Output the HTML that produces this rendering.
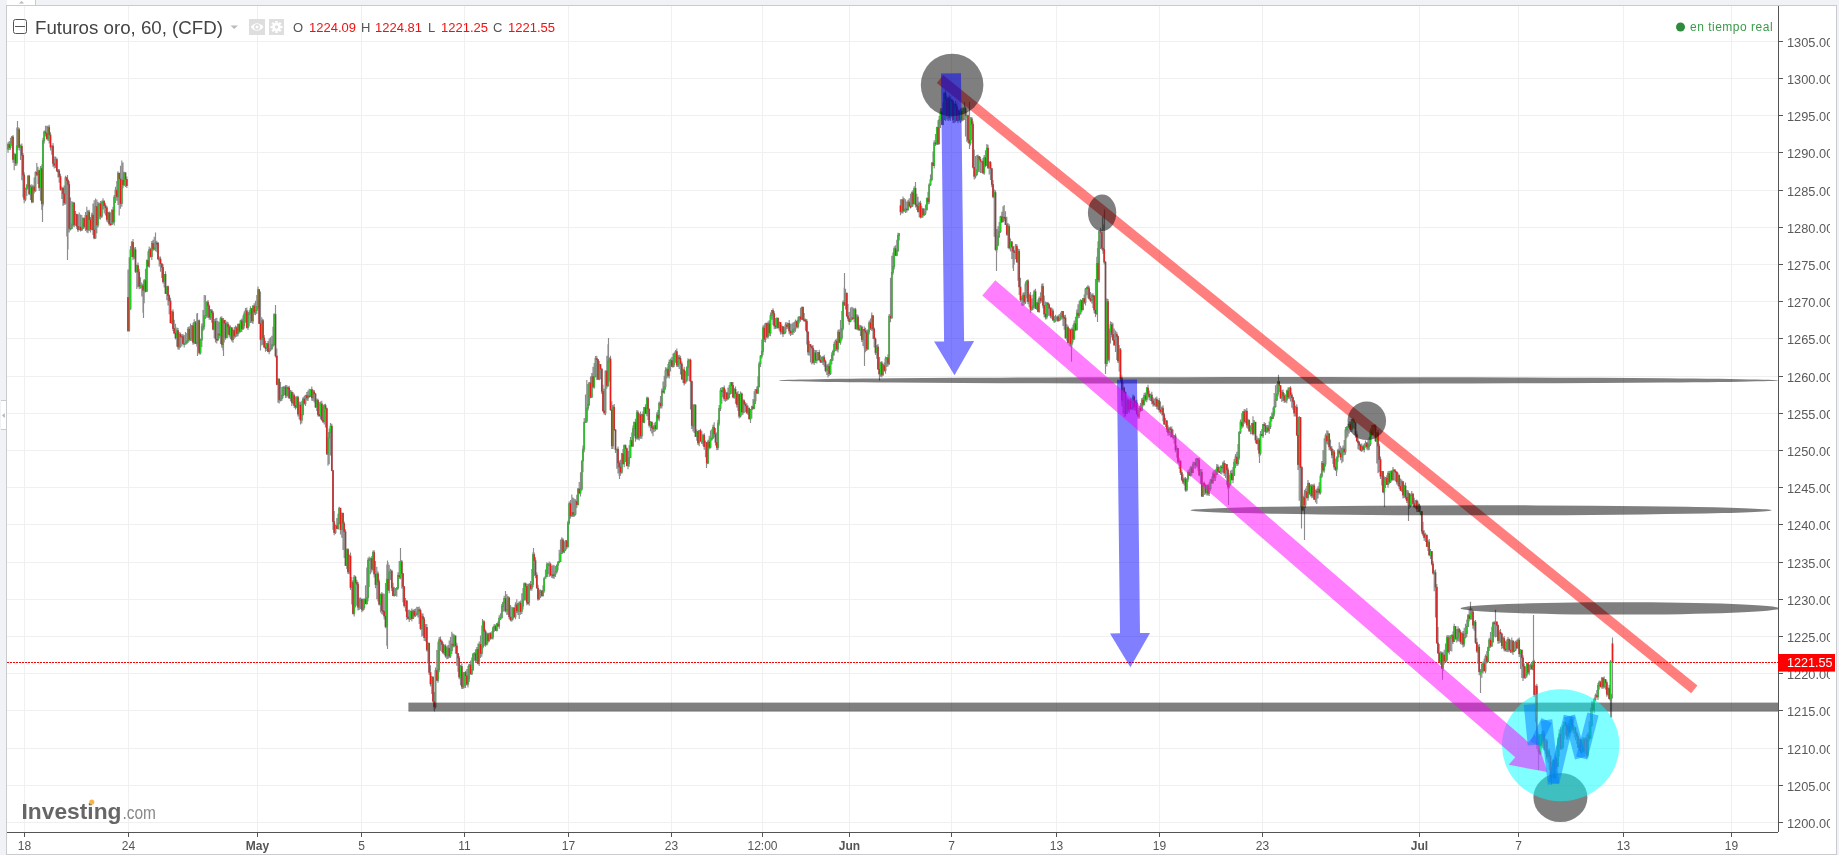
<!DOCTYPE html>
<html><head><meta charset="utf-8"><title>Futuros oro</title>
<style>
html,body{margin:0;padding:0;width:1839px;height:855px;overflow:hidden;background:#f0f2f6;}
svg{position:absolute;left:0;top:0;display:block;will-change:transform}
text{font-family:"Liberation Sans",sans-serif}
</style></head><body>
<svg width="1839" height="855" viewBox="0 0 1839 855">
<defs><clipPath id="cp"><rect x="7" y="6" width="1771" height="826"/></clipPath>
<clipPath id="ax"><rect x="1779" y="6" width="51" height="826"/></clipPath></defs>
<rect x="0" y="0" width="1839" height="855" fill="#f0f2f6"/>
<rect x="6.5" y="5.5" width="1830" height="849" fill="#fff" stroke="#c9cbcf" stroke-width="1"/>
<rect x="7" y="0" width="28" height="5" fill="#fff"/>
<path d="M35.5 0V5" stroke="#c9cbcf"/>
<path d="M19 3.6L21.5 1L24 3.6Z" fill="#b5b7ba"/>
<rect x="1" y="400.5" width="5" height="29" fill="#fff"/>
<path d="M1 400.5H6M1 429.5H6" stroke="#c9cbcf" stroke-width="1"/>
<path d="M2 415.5L4.8 413V418Z" fill="#b5b7ba"/>

<path d="M24.5 6V832M128.5 6V832M257.5 6V832M361.5 6V832M464.5 6V832M568.5 6V832M671.5 6V832M762.5 6V832M849.5 6V832M951.5 6V832M1056.5 6V832M1159.5 6V832M1262.5 6V832M1419.5 6V832M1518.5 6V832M1623.5 6V832M1731.5 6V832M7 41.5H1778M7 78.5H1778M7 115.5H1778M7 152.5H1778M7 190.5H1778M7 227.5H1778M7 264.5H1778M7 301.5H1778M7 338.5H1778M7 376.5H1778M7 413.5H1778M7 450.5H1778M7 487.5H1778M7 524.5H1778M7 562.5H1778M7 599.5H1778M7 636.5H1778M7 673.5H1778M7 710.5H1778M7 748.5H1778M7 785.5H1778M7 822.5H1778" stroke="#f0f0f0" stroke-width="1" shape-rendering="crispEdges"/>
<path d="M1778.5 6V832M7 832.5H1778" stroke="#555" stroke-width="1.2" shape-rendering="crispEdges"/>
<path d="M24.5 833V837M128.5 833V837M257.5 833V837M361.5 833V837M464.5 833V837M568.5 833V837M671.5 833V837M762.5 833V837M849.5 833V837M951.5 833V837M1056.5 833V837M1159.5 833V837M1262.5 833V837M1419.5 833V837M1518.5 833V837M1623.5 833V837M1731.5 833V837M1779 41.5H1783M1779 78.5H1783M1779 115.5H1783M1779 152.5H1783M1779 190.5H1783M1779 227.5H1783M1779 264.5H1783M1779 301.5H1783M1779 338.5H1783M1779 376.5H1783M1779 413.5H1783M1779 450.5H1783M1779 487.5H1783M1779 524.5H1783M1779 562.5H1783M1779 599.5H1783M1779 636.5H1783M1779 673.5H1783M1779 710.5H1783M1779 748.5H1783M1779 785.5H1783M1779 822.5H1783" stroke="#555" stroke-width="1" shape-rendering="crispEdges"/>
<g clip-path="url(#ax)"><text x="1787" y="46.6" font-size="12.8" fill="#5a5a5a">1305.00</text><text x="1787" y="83.6" font-size="12.8" fill="#5a5a5a">1300.00</text><text x="1787" y="120.6" font-size="12.8" fill="#5a5a5a">1295.00</text><text x="1787" y="157.6" font-size="12.8" fill="#5a5a5a">1290.00</text><text x="1787" y="195.6" font-size="12.8" fill="#5a5a5a">1285.00</text><text x="1787" y="232.6" font-size="12.8" fill="#5a5a5a">1280.00</text><text x="1787" y="269.6" font-size="12.8" fill="#5a5a5a">1275.00</text><text x="1787" y="306.6" font-size="12.8" fill="#5a5a5a">1270.00</text><text x="1787" y="343.6" font-size="12.8" fill="#5a5a5a">1265.00</text><text x="1787" y="381.6" font-size="12.8" fill="#5a5a5a">1260.00</text><text x="1787" y="418.6" font-size="12.8" fill="#5a5a5a">1255.00</text><text x="1787" y="455.6" font-size="12.8" fill="#5a5a5a">1250.00</text><text x="1787" y="492.6" font-size="12.8" fill="#5a5a5a">1245.00</text><text x="1787" y="529.6" font-size="12.8" fill="#5a5a5a">1240.00</text><text x="1787" y="567.6" font-size="12.8" fill="#5a5a5a">1235.00</text><text x="1787" y="604.6" font-size="12.8" fill="#5a5a5a">1230.00</text><text x="1787" y="641.6" font-size="12.8" fill="#5a5a5a">1225.00</text><text x="1787" y="678.6" font-size="12.8" fill="#5a5a5a">1220.00</text><text x="1787" y="715.6" font-size="12.8" fill="#5a5a5a">1215.00</text><text x="1787" y="753.6" font-size="12.8" fill="#5a5a5a">1210.00</text><text x="1787" y="790.6" font-size="12.8" fill="#5a5a5a">1205.00</text><text x="1787" y="827.6" font-size="12.8" fill="#5a5a5a">1200.00</text></g>
<text x="24.5" y="849.5" font-size="12" fill="#555" text-anchor="middle">18</text><text x="128.5" y="849.5" font-size="12" fill="#555" text-anchor="middle">24</text><text x="257.5" y="849.5" font-size="12" fill="#555" text-anchor="middle" font-weight="bold">May</text><text x="361.5" y="849.5" font-size="12" fill="#555" text-anchor="middle">5</text><text x="464.5" y="849.5" font-size="12" fill="#555" text-anchor="middle">11</text><text x="568.5" y="849.5" font-size="12" fill="#555" text-anchor="middle">17</text><text x="671.5" y="849.5" font-size="12" fill="#555" text-anchor="middle">23</text><text x="762.5" y="849.5" font-size="12" fill="#555" text-anchor="middle">12:00</text><text x="849.5" y="849.5" font-size="12" fill="#555" text-anchor="middle" font-weight="bold">Jun</text><text x="951.5" y="849.5" font-size="12" fill="#555" text-anchor="middle">7</text><text x="1056.5" y="849.5" font-size="12" fill="#555" text-anchor="middle">13</text><text x="1159.5" y="849.5" font-size="12" fill="#555" text-anchor="middle">19</text><text x="1262.5" y="849.5" font-size="12" fill="#555" text-anchor="middle">23</text><text x="1419.5" y="849.5" font-size="12" fill="#555" text-anchor="middle" font-weight="bold">Jul</text><text x="1518.5" y="849.5" font-size="12" fill="#555" text-anchor="middle">7</text><text x="1623.5" y="849.5" font-size="12" fill="#555" text-anchor="middle">13</text><text x="1731.5" y="849.5" font-size="12" fill="#555" text-anchor="middle">19</text>
<rect x="13.5" y="19.5" width="13" height="14" rx="2" fill="none" stroke="#555" stroke-width="1"/>
<path d="M15 26.5H25" stroke="#555" stroke-width="1"/>
<text x="35" y="34" font-size="18.7" fill="#444">Futuros oro, 60, (CFD)</text>
<path d="M230.5 25.5H238L234.2 29Z" fill="#bbb"/>
<rect x="249" y="19" width="16" height="16" fill="#dedede"/>
<rect x="269" y="19" width="15" height="16" fill="#dedede"/>
<path d="M250.5 27Q257 19.5 263.5 27Q257 34.5 250.5 27Z" fill="#fff"/>
<circle cx="257" cy="27" r="3" fill="#dedede"/>
<circle cx="257" cy="27" r="1.5" fill="#fff"/>
<g transform="translate(276.5 27)" fill="#fff"><circle r="4"/><path d="M-1.2 -6H1.2V6H-1.2Z"/><path d="M-1.2 -6H1.2V6H-1.2Z" transform="rotate(45)"/><path d="M-1.2 -6H1.2V6H-1.2Z" transform="rotate(90)"/><path d="M-1.2 -6H1.2V6H-1.2Z" transform="rotate(135)"/><circle r="1.7" fill="#dedede"/></g>
<g font-size="13" fill="#555"><text x="293" y="32">O</text><text x="361" y="32">H</text><text x="428" y="32">L</text><text x="493" y="32">C</text></g>
<g font-size="13" fill="#f01010"><text x="309" y="32">1224.09</text><text x="375" y="32">1224.81</text><text x="441" y="32">1221.25</text><text x="508" y="32">1221.55</text></g>
<circle cx="1680.5" cy="27" r="4.5" fill="#2e8b3e"/>
<text x="1690" y="31" font-size="12" fill="#3a9a4a" letter-spacing="0.5">en tiempo real</text>

<text x="21.5" y="818.5" font-size="22.3" font-weight="bold" fill="#666" textLength="100" lengthAdjust="spacingAndGlyphs">Investing</text>
<text x="122.5" y="818.7" font-size="19" fill="#888" textLength="33.5" lengthAdjust="spacingAndGlyphs">.com</text>
<circle cx="91.8" cy="802" r="2.6" fill="#f5b54a"/>

<g clip-path="url(#cp)">
<path d="M7 662.5H1778" stroke="#ff0000" stroke-width="1" stroke-dasharray="2 1" shape-rendering="crispEdges"/>
<path d="M8.0 142.2V152.7M9.2 141.0V149.9M10.5 137.8V149.7M11.8 136.0V146.0M13.0 135.0V162.8M14.2 152.7V170.3M15.5 153.5V166.0M16.8 127.5V165.7M18.0 127.1V147.7M19.2 127.7V150.4M20.5 144.5V160.0M21.8 143.6V180.3M23.0 153.0V197.2M24.2 172.3V203.2M25.5 187.6V201.2M26.8 184.1V196.0M28.0 175.3V188.5M29.2 174.7V195.2M30.5 184.8V200.0M31.8 184.2V203.3M33.0 185.2V202.7M34.2 177.4V193.5M35.5 171.3V191.7M36.8 163.1V176.1M38.0 166.7V183.9M39.2 170.1V191.1M40.5 166.1V200.8M41.8 164.6V210.0M43.0 137.8V206.6M44.2 130.4V143.6M45.5 125.7V136.6M46.8 125.7V139.5M48.0 125.8V141.1M49.2 124.8V143.5M50.5 132.2V150.6M51.8 145.4V154.8M53.0 143.1V166.8M54.2 156.5V168.6M55.5 156.5V168.1M56.8 157.5V172.0M58.0 169.0V177.4M59.2 169.1V182.8M60.5 173.7V190.7M61.8 186.5V199.1M63.0 187.3V205.9M64.2 185.6V204.9M65.5 175.8V204.5M66.8 176.8V236.4M68.0 179.0V249.6M69.2 181.2V232.4M70.5 197.4V230.4M71.8 201.2V229.0M73.0 201.8V226.6M74.2 202.0V227.2M75.5 210.9V225.7M76.8 213.8V229.1M78.0 214.6V231.9M79.2 212.6V230.1M80.5 214.4V231.6M81.8 215.1V231.0M83.0 217.5V229.1M84.2 217.4V228.4M85.5 212.1V231.0M86.8 206.8V232.4M88.0 210.3V233.2M89.2 209.8V231.0M90.5 217.1V232.5M91.8 212.8V230.3M93.0 203.6V235.0M94.2 200.3V239.2M95.5 198.5V238.8M96.8 199.6V233.3M98.0 201.7V227.6M99.2 202.7V219.3M100.5 200.9V219.4M101.8 200.5V218.1M103.0 198.3V209.5M104.2 200.2V213.4M105.5 203.3V215.5M106.8 205.8V221.7M108.0 211.9V222.8M109.2 211.5V225.5M110.5 212.3V225.5M111.8 210.0V224.9M113.0 206.8V223.8M114.2 194.9V225.4M115.5 186.8V203.1M116.8 181.1V200.8M118.0 171.3V204.9M119.2 173.0V215.6M120.5 165.7V208.8M121.8 160.4V206.8M123.0 162.6V188.2M124.2 171.7V185.9M125.5 172.0V186.9M126.8 176.4V187.9M128.0 269.4V332.1M129.2 257.3V331.0M130.5 246.1V309.7M131.8 241.0V257.0M133.0 239.1V260.3M134.2 247.6V259.0M135.5 247.1V273.0M136.8 264.4V289.0M138.0 262.6V287.3M139.2 268.9V289.2M140.5 277.3V288.8M141.8 282.6V296.5M143.0 284.0V312.8M144.2 279.0V303.3M145.5 268.8V292.5M146.8 259.4V291.7M148.0 251.2V267.1M149.2 246.5V267.7M150.5 247.7V257.4M151.8 241.0V259.9M153.0 239.8V251.0M154.2 236.8V250.3M155.5 232.6V251.3M156.8 240.7V252.2M158.0 242.5V259.2M159.2 256.4V266.5M160.5 256.4V271.7M161.8 263.2V278.1M163.0 264.0V283.6M164.2 274.1V287.6M165.5 271.2V293.7M166.8 286.5V300.2M168.0 285.4V305.6M169.2 294.5V314.2M170.5 297.7V323.0M171.8 310.7V323.9M173.0 309.2V331.0M174.2 319.8V334.2M175.5 323.7V339.5M176.8 327.5V346.7M178.0 328.1V349.6M179.2 331.9V349.8M180.5 332.5V347.7M181.8 334.3V346.5M183.0 334.1V344.5M184.2 334.9V347.4M185.5 332.1V344.6M186.8 333.0V344.3M188.0 327.0V343.0M189.2 326.3V341.5M190.5 323.4V340.9M191.8 324.9V341.2M193.0 322.7V344.7M194.2 319.2V344.2M195.5 321.1V344.1M196.8 313.4V346.5M198.0 320.6V350.5M199.2 319.4V354.6M200.5 338.6V354.5M201.8 323.6V347.1M203.0 309.9V331.3M204.2 295.0V329.7M205.5 295.2V319.1M206.8 301.3V317.7M208.0 300.1V317.8M209.2 304.6V319.7M210.5 309.0V319.9M211.8 309.1V322.8M213.0 311.1V330.2M214.2 319.1V337.9M215.5 318.3V342.5M216.8 317.7V343.6M218.0 320.9V340.9M219.2 321.9V338.4M220.5 316.8V344.1M221.8 316.2V347.8M223.0 318.1V350.5M224.2 320.0V342.6M225.5 319.7V339.8M226.8 321.6V337.9M228.0 322.1V333.8M229.2 324.8V337.5M230.5 325.5V339.2M231.8 327.0V341.6M233.0 329.6V342.8M234.2 327.0V338.9M235.5 325.5V337.4M236.8 326.3V336.7M238.0 323.9V336.3M239.2 323.5V333.5M240.5 319.7V332.4M241.8 318.6V331.9M243.0 315.6V329.4M244.2 311.5V328.5M245.5 308.0V322.8M246.8 307.6V328.5M248.0 312.1V329.9M249.2 310.3V326.5M250.5 306.2V323.1M251.8 307.9V323.1M253.0 305.5V324.1M254.2 303.2V314.7M255.5 300.7V315.2M256.8 294.9V314.0M258.0 286.6V309.1M259.2 289.2V323.8M260.5 300.1V345.4M261.8 317.3V345.4M263.0 319.1V344.7M264.2 335.0V347.5M265.5 340.7V351.8M266.8 343.1V351.1M268.0 341.0V352.2M269.2 338.3V354.3M270.5 337.3V351.5M271.8 335.8V349.8M273.0 326.7V347.3M274.2 313.3V345.6M275.5 314.0V357.4M276.8 348.5V385.2M278.0 378.3V402.7M279.2 378.3V403.5M280.5 382.0V401.4M281.8 387.1V401.1M283.0 386.3V398.2M284.2 386.4V395.0M285.5 384.9V397.9M286.8 384.9V397.8M288.0 386.5V396.6M289.2 385.7V398.8M290.5 389.9V401.2M291.8 390.6V405.9M293.0 392.0V404.3M294.2 393.5V407.9M295.5 396.5V409.5M296.8 396.1V408.2M298.0 395.8V416.6M299.2 401.6V419.3M300.5 402.4V422.9M301.8 400.8V423.6M303.0 397.3V415.5M304.2 396.0V404.8M305.5 394.7V406.0M306.8 392.0V400.4M308.0 390.5V401.0M309.2 388.8V397.0M310.5 389.2V397.1M311.8 386.4V400.7M313.0 389.5V401.1M314.2 390.0V402.4M315.5 393.0V407.7M316.8 398.5V410.9M318.0 398.8V416.4M319.2 401.9V416.3M320.5 401.4V419.3M321.8 400.7V420.2M323.0 405.6V423.0M324.2 404.0V424.5M325.5 403.7V427.6M326.8 407.4V454.9M328.0 437.7V465.7M329.2 428.4V464.3M330.5 422.9V455.4M331.8 423.7V471.3M333.0 469.9V529.7M334.2 511.1V535.3M335.5 524.6V534.1M336.8 517.9V528.9M338.0 513.8V529.8M339.2 506.7V524.3M340.5 508.2V534.4M341.8 512.7V537.7M343.0 513.0V549.9M344.2 521.4V558.1M345.5 529.3V565.7M346.8 548.5V569.0M348.0 548.3V574.0M349.2 554.6V574.2M350.5 552.6V590.1M351.8 576.9V604.5M353.0 580.5V614.6M354.2 575.1V616.6M355.5 575.7V607.6M356.8 579.7V605.7M358.0 581.8V610.4M359.2 597.5V609.9M360.5 597.4V609.0M361.8 598.8V612.3M363.0 598.8V611.3M364.2 598.4V609.8M365.5 585.2V604.1M366.8 567.4V604.4M368.0 557.8V601.2M369.2 556.6V587.0M370.5 557.5V574.2M371.8 556.1V572.5M373.0 550.4V570.6M374.2 550.3V577.5M375.5 561.0V588.2M376.8 566.8V599.2M378.0 571.5V601.4M379.2 579.4V605.4M380.5 593.4V612.6M381.8 591.9V614.3M383.0 593.2V614.8M384.2 593.7V619.4M385.5 583.1V628.3M386.8 564.4V645.8M388.0 562.2V591.0M389.2 564.8V593.2M390.5 568.8V579.9M391.8 569.8V591.3M393.0 582.8V595.8M394.2 586.7V596.8M395.5 587.9V596.1M396.8 587.1V596.8M398.0 572.3V589.8M399.2 561.1V579.0M400.5 559.2V579.3M401.8 560.0V588.5M403.0 573.0V602.3M404.2 586.6V607.6M405.5 597.9V611.4M406.8 600.6V620.0M408.0 610.1V618.8M409.2 609.4V621.9M410.5 610.5V620.0M411.8 608.4V621.2M413.0 609.8V619.1M414.2 609.0V617.6M415.5 608.4V617.1M416.8 606.7V615.5M418.0 607.0V617.4M419.2 606.5V624.0M420.5 608.5V630.1M421.8 613.2V636.8M423.0 613.5V635.8M424.2 617.0V640.9M425.5 624.0V641.6M426.8 624.0V651.6M428.0 642.6V663.6M429.2 642.9V675.0M430.5 665.3V686.4M431.8 675.9V693.9M433.0 676.9V702.4M434.2 693.3V710.3M435.5 667.4V708.4M436.8 650.0V681.1M438.0 641.7V682.7M439.2 637.1V672.3M440.5 636.5V650.8M441.8 639.7V652.0M443.0 642.3V653.9M444.2 644.6V655.1M445.5 644.2V657.7M446.8 646.5V659.2M448.0 644.9V658.9M449.2 640.5V657.9M450.5 637.1V658.0M451.8 631.8V653.9M453.0 633.4V647.4M454.2 634.5V647.3M455.5 635.4V653.8M456.8 642.7V665.7M458.0 652.9V671.7M459.2 655.9V679.2M460.5 664.9V685.3M461.8 663.4V688.9M463.0 672.6V689.1M464.2 672.1V688.2M465.5 670.7V688.0M466.8 669.1V685.4M468.0 666.1V687.4M469.2 663.7V682.0M470.5 660.5V674.2M471.8 657.5V675.1M473.0 653.3V671.0M474.2 651.9V660.8M475.5 649.3V662.8M476.8 647.1V662.5M478.0 643.6V664.6M479.2 641.5V666.0M480.5 635.4V657.9M481.8 625.5V656.8M483.0 620.2V648.2M484.2 620.5V645.9M485.5 629.5V646.8M486.8 632.2V645.5M488.0 633.1V643.4M489.2 632.5V641.3M490.5 632.3V639.7M491.8 631.2V639.3M493.0 626.5V639.4M494.2 624.0V632.1M495.5 624.5V630.7M496.8 623.0V631.6M498.0 621.4V627.0M499.2 615.2V628.8M500.5 613.2V620.0M501.8 603.9V618.2M503.0 601.7V611.8M504.2 595.8V611.5M505.5 591.0V612.6M506.8 594.0V614.9M508.0 596.0V614.7M509.2 596.8V619.2M510.5 605.0V621.3M511.8 606.7V621.7M513.0 607.4V620.3M514.2 607.6V617.8M515.5 602.2V619.3M516.8 599.3V613.1M518.0 603.1V615.0M519.2 601.2V618.9M520.5 600.6V614.7M521.8 593.2V614.1M523.0 588.1V609.4M524.2 582.6V600.5M525.5 582.4V600.4M526.8 583.5V605.2M528.0 584.0V604.5M529.2 583.1V605.7M530.5 581.0V590.6M531.8 568.9V590.7M533.0 552.3V587.2M534.2 552.6V576.0M535.5 557.3V578.3M536.8 572.3V588.3M538.0 584.8V600.8M539.2 589.5V599.7M540.5 589.5V597.9M541.8 590.4V596.6M543.0 585.3V596.3M544.2 577.5V592.7M545.5 569.5V578.5M546.8 562.2V577.0M548.0 563.0V574.3M549.2 561.5V577.0M550.5 562.4V576.3M551.8 565.7V577.9M553.0 564.7V578.6M554.2 565.2V578.8M555.5 566.1V577.1M556.8 564.5V573.4M558.0 561.3V570.2M559.2 549.8V563.2M560.5 539.5V561.5M561.8 537.2V553.7M563.0 538.3V552.7M564.2 541.4V553.3M565.5 540.2V551.1M566.8 540.0V548.9M568.0 520.8V547.3M569.2 501.4V524.8M570.5 500.0V518.5M571.8 494.5V516.8M573.0 497.6V517.0M574.2 498.4V516.8M575.5 499.2V515.5M576.8 494.8V507.9M578.0 488.3V505.1M579.2 481.9V494.3M580.5 472.3V496.6M581.8 460.7V490.7M583.0 445.5V472.2M584.2 418.0V452.2M585.5 394.4V422.7M586.8 380.0V423.1M588.0 384.1V410.8M589.2 382.4V406.1M590.5 376.4V398.2M591.8 373.1V397.5M593.0 366.7V387.9M594.2 363.1V388.8M595.5 356.0V377.5M596.8 355.8V379.9M598.0 359.2V379.3M599.2 361.1V380.3M600.5 364.3V379.3M601.8 368.4V394.0M603.0 384.8V411.7M604.2 388.7V414.8M605.5 370.8V415.2M606.8 355.7V388.8M608.0 344.3V387.1M609.2 357.3V381.4M610.5 355.8V410.7M611.8 401.3V449.0M613.0 405.0V449.0M614.2 404.0V430.7M615.5 429.1V452.9M616.8 448.8V468.8M618.0 446.6V473.5M619.2 460.6V475.9M620.5 459.8V475.8M621.8 453.2V473.8M623.0 448.9V464.3M624.2 444.6V467.3M625.5 444.4V461.9M626.8 447.4V466.0M628.0 451.1V469.2M629.2 445.1V466.8M630.5 437.0V457.5M631.8 432.5V447.1M633.0 425.4V446.4M634.2 421.4V436.1M635.5 418.7V441.7M636.8 410.1V439.6M638.0 410.4V439.7M639.2 413.2V440.4M640.5 411.6V438.7M641.8 413.7V438.9M643.0 411.3V422.5M644.2 406.9V423.2M645.5 404.2V414.3M646.8 396.8V416.3M648.0 396.7V419.9M649.2 408.4V427.6M650.5 421.1V431.2M651.8 421.5V433.5M653.0 426.2V436.3M654.2 422.8V431.9M655.5 421.7V431.2M656.8 412.2V430.0M658.0 410.1V420.2M659.2 401.5V421.2M660.5 396.0V408.5M661.8 388.4V408.6M663.0 381.6V392.7M664.2 375.7V394.0M665.5 367.2V389.8M666.8 367.4V378.6M668.0 364.1V377.6M669.2 359.5V378.4M670.5 358.4V371.6M671.8 356.9V367.1M673.0 353.4V367.8M674.2 352.4V366.9M675.5 350.1V362.8M676.8 348.6V366.9M678.0 354.9V366.9M679.2 354.8V369.1M680.5 355.7V374.5M681.8 361.4V379.5M683.0 368.7V383.0M684.2 366.7V385.5M685.5 370.8V383.3M686.8 366.4V381.9M688.0 358.2V376.0M689.2 359.1V381.0M690.5 358.4V409.6M691.8 380.5V428.9M693.0 404.4V431.4M694.2 404.0V432.9M695.5 404.2V436.8M696.8 429.4V440.8M698.0 431.1V444.9M699.2 429.9V446.2M700.5 428.8V441.5M701.8 431.3V443.9M703.0 434.4V445.8M704.2 433.3V449.8M705.5 440.5V457.3M706.8 442.3V464.5M708.0 439.7V463.9M709.2 435.7V449.5M710.5 430.6V448.6M711.8 429.1V440.8M713.0 424.8V438.7M714.2 422.2V437.5M715.5 428.0V445.5M716.8 432.3V450.3M718.0 419.7V449.9M719.2 405.1V425.7M720.5 387.7V411.0M721.8 387.3V403.8M723.0 387.2V397.3M724.2 385.6V401.3M725.5 389.6V401.7M726.8 391.7V401.1M728.0 387.4V399.4M729.2 385.0V398.5M730.5 382.2V394.4M731.8 382.1V393.8M733.0 382.1V398.3M734.2 387.9V398.8M735.5 386.4V403.8M736.8 392.1V407.4M738.0 391.0V411.1M739.2 394.0V418.4M740.5 391.6V417.6M741.8 392.6V415.5M743.0 399.2V414.7M744.2 399.6V413.1M745.5 402.2V412.3M746.8 403.2V413.8M748.0 405.6V415.1M749.2 407.4V419.5M750.5 409.2V423.0M751.8 405.7V418.4M753.0 398.9V409.4M754.2 391.3V409.3M755.5 388.9V404.1M756.8 386.5V393.7M758.0 376.2V394.1M759.2 361.6V387.6M760.5 354.9V367.1M761.8 339.4V358.5M763.0 325.6V354.7M764.2 324.6V341.9M765.5 322.8V342.4M766.8 322.8V337.9M768.0 321.4V338.7M769.2 320.3V336.0M770.5 312.5V336.2M771.8 310.0V319.7M773.0 308.3V325.0M774.2 311.3V329.2M775.5 318.1V329.0M776.8 317.4V328.7M778.0 317.8V328.5M779.2 321.4V330.5M780.5 322.2V334.5M781.8 324.6V334.3M783.0 326.0V336.9M784.2 326.7V334.1M785.5 322.3V333.7M786.8 322.3V329.3M788.0 322.7V328.8M789.2 320.1V334.2M790.5 323.8V335.9M791.8 323.6V335.1M793.0 322.6V334.8M794.2 322.0V332.9M795.5 319.6V331.8M796.8 320.5V327.8M798.0 316.8V328.4M799.2 316.3V323.5M800.5 307.7V321.7M801.8 306.4V320.1M803.0 306.6V320.4M804.2 313.1V321.5M805.5 318.5V330.7M806.8 318.9V344.4M808.0 331.4V355.2M809.2 340.7V355.7M810.5 344.3V362.5M811.8 345.6V364.5M813.0 344.9V363.5M814.2 349.4V365.1M815.5 350.0V363.0M816.8 349.9V363.5M818.0 352.1V359.7M819.2 349.8V361.3M820.5 355.3V362.9M821.8 356.4V362.9M823.0 356.1V364.9M824.2 354.7V366.7M825.5 359.7V372.2M826.8 364.4V375.1M828.0 363.8V377.5M829.2 362.4V376.0M830.5 359.0V375.1M831.8 352.2V364.4M833.0 349.8V360.8M834.2 341.7V355.5M835.5 339.6V351.0M836.8 338.5V351.3M838.0 329.7V352.5M839.2 329.2V343.3M840.5 320.1V344.8M841.8 310.9V340.4M843.0 300.4V330.6M844.2 287.6V306.0M845.5 288.8V309.5M846.8 292.3V317.3M848.0 304.1V321.0M849.2 312.1V324.8M850.5 307.4V322.2M851.8 306.8V320.1M853.0 307.6V319.1M854.2 308.3V322.3M855.5 307.8V329.3M856.8 314.3V329.7M858.0 314.7V330.6M859.2 324.8V330.6M860.5 325.1V336.1M861.8 325.6V341.9M863.0 329.1V345.9M864.2 326.3V348.2M865.5 327.8V352.2M866.8 329.8V351.0M868.0 329.2V349.4M869.2 320.5V334.5M870.5 318.4V330.0M871.8 312.5V330.9M873.0 315.0V338.9M874.2 327.4V347.5M875.5 337.4V355.0M876.8 345.1V358.8M878.0 343.9V369.8M879.2 359.0V375.3M880.5 361.7V376.8M881.8 360.9V377.5M883.0 363.9V375.4M884.2 362.4V371.8M885.5 356.6V373.8M886.8 357.5V367.1M888.0 354.3V366.4M889.2 313.9V365.1M890.5 277.7V322.3M891.8 255.8V318.6M893.0 252.4V274.7M894.2 246.2V269.4M895.5 245.3V256.1M896.8 239.8V256.2M898.0 232.7V251.9M899.2 233.1V240.5M900.5 199.3V215.3M901.8 199.2V213.4M903.0 196.4V213.6M904.2 198.1V211.6M905.5 199.3V213.0M906.8 201.5V212.6M908.0 199.8V210.0M909.2 198.3V206.6M910.5 193.7V208.6M911.8 191.5V207.3M913.0 190.0V206.4M914.2 186.3V204.0M915.5 187.5V207.4M916.8 193.7V209.9M918.0 196.7V212.6M919.2 201.8V217.2M920.5 200.8V218.5M921.8 205.9V217.7M923.0 208.2V217.6M924.2 208.3V216.0M925.5 204.6V214.9M926.8 197.6V210.3M928.0 191.7V204.5M929.2 183.2V204.1M930.5 174.4V186.1M931.8 162.4V181.3M933.0 151.5V166.1M934.2 140.2V168.4M935.5 134.0V146.1M936.8 126.7V145.1M938.0 120.3V145.0M939.2 116.1V144.5M940.5 108.4V127.9M941.8 108.0V125.0M943.0 102.4V125.3M944.2 92.3V120.1M945.5 90.6V121.1M946.8 96.3V119.6M948.0 97.1V120.9M949.2 95.2V120.4M950.5 96.6V120.7M951.8 98.9V116.8M953.0 100.2V122.9M954.2 103.6V123.3M955.5 101.1V122.2M956.8 103.4V121.3M958.0 108.9V123.3M959.2 109.7V121.6M960.5 108.6V123.1M961.8 107.8V121.7M963.0 107.7V121.1M964.2 107.2V119.3M965.5 106.4V136.4M966.8 111.2V141.7M968.0 114.8V142.9M969.2 112.1V143.9M970.5 116.9V145.5M971.8 116.9V139.9M973.0 121.2V168.6M974.2 149.6V179.6M975.5 156.0V178.5M976.8 154.9V176.1M978.0 154.5V172.4M979.2 155.9V171.9M980.5 156.7V172.9M981.8 160.9V172.9M983.0 158.1V174.1M984.2 154.9V174.7M985.5 150.2V167.2M986.8 143.9V166.0M988.0 144.8V169.1M989.2 161.3V174.5M990.5 161.1V180.1M991.8 168.6V187.3M993.0 180.0V198.2M994.2 189.3V236.8M995.5 190.2V250.8M996.8 229.3V252.8M998.0 226.2V246.3M999.2 222.1V238.1M1000.5 215.8V233.0M1001.8 211.8V223.0M1003.0 206.3V222.1M1004.2 205.0V221.1M1005.5 211.2V225.0M1006.8 216.7V235.7M1008.0 223.0V248.2M1009.2 224.2V249.5M1010.5 238.4V251.4M1011.8 241.0V259.1M1013.0 246.2V268.2M1014.2 250.1V264.7M1015.5 244.0V259.2M1016.8 244.1V262.5M1018.0 248.5V280.7M1019.2 249.0V295.1M1020.5 277.8V302.1M1021.8 295.8V305.5M1023.0 292.4V305.9M1024.2 292.2V305.2M1025.5 281.5V304.0M1026.8 280.3V298.3M1028.0 279.2V304.2M1029.2 293.6V307.3M1030.5 292.1V312.7M1031.8 298.4V311.0M1033.0 294.5V310.0M1034.2 289.8V308.3M1035.5 288.8V309.1M1036.8 302.2V310.1M1038.0 299.6V312.2M1039.2 296.6V312.8M1040.5 292.2V303.5M1041.8 283.7V302.6M1043.0 283.2V308.2M1044.2 295.5V317.3M1045.5 301.6V319.4M1046.8 302.1V319.3M1048.0 302.1V316.0M1049.2 303.5V315.4M1050.5 307.3V318.3M1051.8 307.6V318.8M1053.0 308.8V321.1M1054.2 316.0V323.0M1055.5 314.8V322.3M1056.8 316.8V321.2M1058.0 315.3V322.1M1059.2 314.1V321.3M1060.5 312.4V320.6M1061.8 311.2V319.5M1063.0 310.9V325.9M1064.2 315.0V329.8M1065.5 314.7V338.7M1066.8 324.0V340.7M1068.0 325.6V343.3M1069.2 328.1V345.7M1070.5 328.8V347.1M1071.8 327.6V347.4M1073.0 324.8V342.4M1074.2 320.4V339.8M1075.5 316.8V331.3M1076.8 309.5V330.4M1078.0 304.2V318.5M1079.2 300.8V317.9M1080.5 299.2V314.6M1081.8 299.7V312.2M1083.0 298.0V310.1M1084.2 294.4V304.0M1085.5 287.9V305.6M1086.8 286.5V295.3M1088.0 285.0V298.3M1089.2 286.2V299.7M1090.5 292.0V302.1M1091.8 293.4V303.4M1093.0 293.2V308.0M1094.2 295.0V313.3M1095.5 279.0V316.9M1096.8 256.7V314.9M1098.0 241.3V282.0M1099.2 230.2V282.5M1100.5 227.9V248.9M1101.8 229.6V249.8M1103.0 224.4V253.7M1104.2 213.9V264.4M1105.5 261.9V367.7M1106.8 298.2V366.5M1108.0 299.0V361.1M1109.2 328.4V362.4M1110.5 321.3V343.5M1111.8 322.0V337.5M1113.0 323.3V340.5M1114.2 328.4V345.6M1115.5 330.6V351.9M1116.8 331.8V360.1M1118.0 335.6V362.9M1119.2 344.9V371.5M1120.5 348.1V381.7M1121.8 375.4V406.3M1123.0 382.5V413.8M1124.2 386.8V417.0M1125.5 391.4V416.5M1126.8 396.6V414.1M1128.0 398.3V412.0M1129.2 399.2V413.0M1130.5 398.0V409.6M1131.8 398.8V409.9M1133.0 394.6V409.6M1134.2 395.5V410.4M1135.5 400.4V410.8M1136.8 399.8V414.8M1138.0 410.3V418.8M1139.2 405.9V418.8M1140.5 403.0V412.2M1141.8 397.9V410.9M1143.0 397.3V406.4M1144.2 392.7V405.6M1145.5 392.4V401.5M1146.8 387.0V402.3M1148.0 384.8V395.7M1149.2 390.4V400.3M1150.5 393.4V401.1M1151.8 391.7V404.2M1153.0 397.2V406.6M1154.2 398.4V406.5M1155.5 397.6V406.7M1156.8 396.6V409.3M1158.0 400.0V409.7M1159.2 398.1V412.5M1160.5 401.5V413.7M1161.8 406.5V415.6M1163.0 405.3V421.2M1164.2 412.7V424.9M1165.5 418.1V426.9M1166.8 420.0V432.1M1168.0 425.3V435.8M1169.2 427.1V435.5M1170.5 426.6V437.6M1171.8 426.5V437.1M1173.0 429.6V439.4M1174.2 435.1V443.4M1175.5 433.6V452.3M1176.8 445.4V457.7M1178.0 448.0V463.5M1179.2 458.3V468.9M1180.5 460.7V475.1M1181.8 469.5V481.1M1183.0 474.2V484.0M1184.2 477.4V485.5M1185.5 477.1V491.7M1186.8 478.4V491.4M1188.0 470.2V482.0M1189.2 469.3V476.1M1190.5 466.3V476.6M1191.8 465.7V475.4M1193.0 461.5V472.8M1194.2 461.9V468.4M1195.5 458.4V468.7M1196.8 457.7V467.6M1198.0 458.4V470.8M1199.2 457.6V476.2M1200.5 469.0V483.8M1201.8 469.0V497.1M1203.0 482.4V497.1M1204.2 481.6V494.9M1205.5 483.7V494.6M1206.8 484.7V495.5M1208.0 484.2V495.5M1209.2 482.3V496.0M1210.5 478.9V490.8M1211.8 476.6V484.1M1213.0 471.5V483.7M1214.2 469.7V480.9M1215.5 469.3V480.9M1216.8 464.1V474.9M1218.0 464.6V471.6M1219.2 466.7V472.6M1220.5 465.6V474.0M1221.8 465.1V474.6M1223.0 461.5V472.5M1224.2 460.3V476.1M1225.5 463.2V478.1M1226.8 463.9V485.1M1228.0 467.5V489.3M1229.2 475.1V488.5M1230.5 470.5V485.5M1231.8 469.8V480.1M1233.0 467.0V483.2M1234.2 459.1V475.5M1235.5 454.1V468.3M1236.8 451.8V465.9M1238.0 444.1V465.6M1239.2 431.1V459.8M1240.5 419.5V433.9M1241.8 413.2V428.7M1243.0 411.2V427.6M1244.2 408.9V423.7M1245.5 409.5V423.3M1246.8 408.1V427.8M1248.0 418.7V428.9M1249.2 419.6V431.9M1250.5 425.2V434.3M1251.8 423.3V434.3M1253.0 416.2V435.6M1254.2 420.0V434.3M1255.5 421.9V443.2M1256.8 435.8V444.3M1258.0 437.7V450.3M1259.2 437.9V456.8M1260.5 431.0V455.5M1261.8 429.0V435.9M1263.0 424.3V438.1M1264.2 422.0V431.8M1265.5 423.0V435.1M1266.8 425.0V433.0M1268.0 425.0V432.2M1269.2 421.6V433.7M1270.5 416.1V429.1M1271.8 412.4V421.4M1273.0 407.4V418.6M1274.2 393.1V416.4M1275.5 385.3V407.8M1276.8 384.1V400.9M1278.0 380.9V396.6M1279.2 380.7V392.1M1280.5 385.0V398.6M1281.8 389.9V401.9M1283.0 389.4V400.9M1284.2 392.9V402.9M1285.5 394.4V402.4M1286.8 389.8V403.2M1288.0 387.5V398.7M1289.2 387.5V399.2M1290.5 386.2V401.6M1291.8 392.6V407.7M1293.0 396.7V409.7M1294.2 399.9V416.4M1295.5 405.7V416.5M1296.8 404.3V435.7M1298.0 417.3V470.1M1299.2 415.9V500.8M1300.5 416.9V506.9M1301.8 466.1V511.0M1303.0 495.7V511.2M1304.2 492.9V507.0M1305.5 488.5V508.1M1306.8 485.9V498.0M1308.0 480.1V500.7M1309.2 482.5V495.0M1310.5 484.6V496.5M1311.8 484.0V498.3M1313.0 484.4V497.8M1314.2 483.5V499.8M1315.5 489.5V502.5M1316.8 488.6V504.0M1318.0 486.3V498.6M1319.2 482.2V494.5M1320.5 473.5V494.5M1321.8 460.9V477.9M1323.0 449.9V471.8M1324.2 438.2V472.8M1325.5 433.4V466.8M1326.8 430.2V444.1M1328.0 430.8V445.3M1329.2 433.0V450.3M1330.5 439.5V451.3M1331.8 446.1V458.2M1333.0 448.9V464.1M1334.2 450.0V469.7M1335.5 458.4V471.1M1336.8 456.5V472.6M1338.0 448.8V461.8M1339.2 442.2V454.7M1340.5 445.7V460.3M1341.8 447.4V463.3M1343.0 445.4V461.7M1344.2 439.9V455.2M1345.5 427.0V454.8M1346.8 426.1V438.2M1348.0 423.8V436.6M1349.2 421.5V433.6M1350.5 421.4V432.1M1351.8 419.0V431.9M1353.0 417.7V428.3M1354.2 419.8V429.1M1355.5 421.9V437.7M1356.8 431.2V441.2M1358.0 437.7V449.2M1359.2 441.0V449.9M1360.5 443.7V451.3M1361.8 443.6V452.1M1363.0 445.5V450.6M1364.2 443.4V452.6M1365.5 440.6V447.7M1366.8 442.0V449.6M1368.0 439.4V450.5M1369.2 437.3V450.0M1370.5 428.2V446.1M1371.8 425.0V435.8M1373.0 424.8V434.6M1374.2 424.2V433.1M1375.5 424.6V442.0M1376.8 431.9V463.6M1378.0 430.0V473.3M1379.2 443.7V472.2M1380.5 456.6V479.1M1381.8 471.2V485.5M1383.0 471.1V492.8M1384.2 476.2V494.4M1385.5 476.9V488.1M1386.8 475.3V484.8M1388.0 471.3V487.7M1389.2 470.7V483.9M1390.5 470.8V482.9M1391.8 470.0V481.3M1393.0 466.9V480.5M1394.2 469.1V480.4M1395.5 469.2V481.4M1396.8 471.9V484.5M1398.0 472.7V486.1M1399.2 474.4V489.1M1400.5 478.5V490.6M1401.8 479.6V491.9M1403.0 481.5V498.5M1404.2 484.8V498.1M1405.5 482.6V499.4M1406.8 490.0V503.0M1408.0 490.2V505.2M1409.2 492.9V508.7M1410.5 493.4V507.6M1411.8 491.0V505.4M1413.0 493.4V504.4M1414.2 497.7V508.0M1415.5 500.2V508.7M1416.8 499.4V512.0M1418.0 501.3V511.9M1419.2 503.6V512.1M1420.5 505.7V515.3M1421.8 511.1V533.8M1423.0 521.8V536.2M1424.2 530.2V540.8M1425.5 532.7V542.0M1426.8 534.3V546.9M1428.0 540.3V551.0M1429.2 538.9V556.3M1430.5 549.0V559.1M1431.8 550.9V565.6M1433.0 561.1V574.5M1434.2 570.2V591.3M1435.5 569.5V617.5M1436.8 583.9V643.2M1438.0 626.9V654.1M1439.2 644.0V661.9M1440.5 651.2V664.8M1441.8 651.5V669.2M1443.0 652.3V671.0M1444.2 649.8V664.4M1445.5 643.4V662.3M1446.8 635.6V662.2M1448.0 634.9V653.1M1449.2 635.5V654.4M1450.5 635.4V651.1M1451.8 634.2V651.5M1453.0 631.5V644.0M1454.2 623.7V641.7M1455.5 626.2V639.7M1456.8 629.1V642.4M1458.0 626.3V641.2M1459.2 628.1V641.5M1460.5 629.7V644.3M1461.8 632.4V644.7M1463.0 630.9V647.6M1464.2 627.7V646.7M1465.5 623.8V638.4M1466.8 619.5V636.9M1468.0 614.1V626.5M1469.2 608.8V621.6M1470.5 605.2V619.8M1471.8 608.3V619.8M1473.0 610.2V628.7M1474.2 620.7V630.7M1475.5 620.0V644.0M1476.8 638.2V652.8M1478.0 644.7V663.8M1479.2 644.0V675.2M1480.5 669.1V683.0M1481.8 663.2V677.8M1483.0 661.5V673.4M1484.2 658.5V671.1M1485.5 654.4V673.3M1486.8 650.9V663.6M1488.0 646.8V662.6M1489.2 637.8V651.1M1490.5 632.0V647.7M1491.8 626.8V646.7M1493.0 621.7V642.7M1494.2 621.2V636.8M1495.5 620.6V637.4M1496.8 621.6V637.0M1498.0 624.4V643.7M1499.2 630.1V643.4M1500.5 629.0V642.8M1501.8 632.7V649.1M1503.0 636.9V648.1M1504.2 636.0V651.5M1505.5 640.8V651.6M1506.8 639.6V652.0M1508.0 636.9V652.2M1509.2 638.5V651.6M1510.5 639.8V653.1M1511.8 637.6V653.3M1513.0 640.8V654.9M1514.2 641.8V652.3M1515.5 640.8V651.1M1516.8 639.7V649.3M1518.0 638.5V648.0M1519.2 637.4V657.0M1520.5 649.0V669.1M1521.8 649.8V678.1M1523.0 655.2V681.0M1524.2 663.4V678.7M1525.5 666.3V678.7M1526.8 662.4V677.4M1528.0 662.6V674.1M1529.2 664.5V675.3M1530.5 663.4V669.7M1531.8 662.5V669.7M1533.0 660.4V670.4M1534.2 659.8V697.1M1535.5 685.4V722.3M1536.8 683.7V749.1M1538.0 732.1V752.0M1539.2 734.1V754.8M1540.5 734.0V755.3M1541.8 731.2V748.8M1543.0 729.9V747.9M1544.2 731.4V750.8M1545.5 738.6V753.8M1546.8 738.7V759.3M1548.0 749.6V762.6M1549.2 748.4V769.7M1550.5 754.7V779.9M1551.8 762.7V779.2M1553.0 759.1V775.0M1554.2 759.9V779.6M1555.5 755.5V778.4M1556.8 745.7V768.9M1558.0 737.0V766.6M1559.2 729.3V756.4M1560.5 726.8V749.8M1561.8 728.4V750.1M1563.0 725.2V748.6M1564.2 720.9V739.3M1565.5 722.5V735.3M1566.8 724.5V739.4M1568.0 723.1V739.7M1569.2 720.5V732.5M1570.5 717.2V732.6M1571.8 716.1V728.5M1573.0 722.1V733.5M1574.2 725.6V737.4M1575.5 726.9V740.2M1576.8 731.2V743.9M1578.0 734.5V747.8M1579.2 738.6V750.9M1580.5 738.7V753.1M1581.8 740.3V754.4M1583.0 736.9V751.7M1584.2 737.8V752.5M1585.5 737.1V753.7M1586.8 734.5V758.4M1588.0 732.2V757.5M1589.2 721.2V741.4M1590.5 707.7V738.8M1591.8 701.3V726.8M1593.0 701.5V710.0M1594.2 697.6V713.2M1595.5 693.4V701.6M1596.8 690.1V697.6M1598.0 683.0V700.1M1599.2 680.6V689.8M1600.5 680.7V687.4M1601.8 677.4V688.7M1603.0 677.7V688.7M1604.2 676.5V688.3M1605.5 678.9V689.6M1606.8 680.4V696.7M1608.0 687.4V695.5M1609.2 685.1V699.6M1610.5 660.0V717.4M1612.5 637.4V664.0M17.5 121.0V150.0M67.5 175.0V260.0M42.5 157.0V222.0M129.5 259.0V331.6M143.5 286.0V318.0M197.5 313.0V356.0M223.5 318.0V356.0M260.5 291.5V350.6M275.5 305.0V345.0M300.5 401.7V424.6M387.5 560.6V649.0M400.5 548.0V577.0M434.5 692.0V711.6M482.5 619.0V650.0M533.5 548.0V578.0M608.5 338.0V360.0M619.5 465.0V479.0M706.5 445.0V468.0M844.5 273.0V306.0M879.5 357.0V380.6M864.5 328.0V366.0M915.5 182.0V204.0M969.5 102.0V149.0M996.5 229.0V271.0M1013.5 251.0V271.0M1071.5 330.0V361.7M1097.5 248.0V322.0M1102.5 216.8V251.0M1104.5 209.5V261.0M1228.5 473.8V505.0M1259.5 440.0V463.0M1278.5 374.7V389.5M1301.5 499.0V528.5M1304.5 490.0V540.0M1336.5 457.0V476.0M1384.5 478.0V507.0M1408.5 491.5V521.0M1442.5 655.5V679.7M1470.5 601.7V615.2M1480.5 669.0V693.0M1495.5 609.8V636.7M1533.5 615.0V669.0M1538.5 736.0V770.0M1551.5 761.6V784.7M1611.5 694.0V717.4M1612.5 637.4V698.4M964.5 102.0V120.0M1105.5 261.0V374.0" stroke="#8c8c8c" stroke-width="1.15"/>
<path d="M8.0 144.1V149.5M10.5 142.4V148.1M11.8 136.6V143.2M14.2 154.1V159.8M16.8 145.4V163.6M18.0 129.3V146.2M20.5 145.7V147.7M25.5 188.8V199.7M26.8 185.2V189.6M28.0 175.7V186.0M30.5 186.6V194.2M33.0 186.4V202.3M35.5 171.9V191.2M38.0 170.2V174.9M40.5 168.2V188.2M43.0 140.2V204.2M44.2 131.4V141.0M48.0 127.1V139.2M51.8 145.6V147.6M55.5 159.1V165.7M61.8 187.9V189.9M65.5 177.3V203.2M70.5 228.0V230.0M71.8 223.7V228.8M73.0 202.7V224.5M75.5 213.9V225.2M79.2 226.6V230.3M81.8 228.0V230.5M83.0 218.0V228.8M85.5 214.9V227.0M88.0 211.6V230.0M91.8 214.7V229.7M95.5 206.1V238.5M98.0 204.7V225.4M99.2 203.4V205.5M101.8 201.9V216.7M103.0 201.1V203.1M108.0 212.4V219.8M111.8 209.6V225.1M114.2 196.8V222.4M115.5 189.8V197.6M118.0 172.7V197.2M121.8 179.7V204.0M124.2 172.5V185.1M129.2 308.4V330.9M130.5 249.5V309.2M131.8 241.9V250.3M134.2 249.3V257.2M136.8 265.2V272.0M140.5 285.5V287.5M141.8 285.4V287.4M144.2 280.2V290.6M146.8 260.2V291.8M149.2 249.2V266.5M151.8 243.0V257.1M154.2 247.6V249.6M155.5 242.6V248.4M159.2 258.6V260.6M164.2 273.9V281.9M166.8 286.2V294.0M171.8 311.6V323.3M176.8 330.2V338.3M179.2 334.1V347.2M181.8 336.0V338.0M184.2 343.0V345.0M185.5 342.4V344.4M186.8 340.4V343.2M188.0 328.7V341.2M190.5 338.0V340.0M191.8 325.4V338.8M194.2 322.2V342.7M196.8 342.1V344.1M198.0 320.3V342.9M200.5 339.6V353.2M201.8 326.5V340.4M203.0 326.3V328.3M204.2 315.6V327.1M205.5 315.3V317.3M206.8 301.8V316.1M210.5 310.3V317.7M214.2 320.9V329.6M218.0 333.6V340.1M220.5 318.2V335.5M223.0 319.9V345.0M226.8 323.8V338.2M230.5 327.4V335.3M233.0 330.1V339.9M235.5 327.2V336.6M238.0 323.8V334.0M240.5 320.4V331.8M243.0 325.2V329.4M244.2 313.7V326.0M245.5 310.3V314.5M248.0 314.3V327.9M249.2 312.4V315.1M250.5 308.2V313.2M253.0 305.5V321.3M255.5 310.3V312.7M256.8 305.9V311.1M258.0 289.2V306.7M261.8 320.3V339.8M266.8 343.3V348.7M269.2 348.8V351.9M270.5 348.5V350.5M271.8 344.6V349.3M273.0 344.1V346.1M274.2 314.1V344.9M278.0 379.1V384.8M280.5 398.4V400.4M281.8 395.1V399.2M283.0 387.3V395.9M284.2 386.5V388.5M286.8 387.2V395.7M290.5 391.9V398.4M293.0 394.9V402.9M296.8 396.9V407.5M299.2 404.5V414.5M301.8 414.0V420.6M303.0 398.5V414.8M305.5 395.1V403.8M308.0 395.4V398.5M310.5 389.2V396.5M313.0 391.4V398.3M316.8 400.1V407.6M320.5 403.4V416.5M324.2 405.1V421.8M328.0 437.4V454.2M329.2 432.0V438.2M330.5 425.7V432.8M335.5 525.4V533.0M338.0 523.3V528.9M339.2 507.8V524.1M341.8 512.8V530.1M346.8 549.2V566.0M349.2 555.5V572.3M351.8 582.2V587.8M354.2 576.8V613.9M359.2 598.9V607.6M360.5 598.7V600.7M363.0 606.9V609.9M364.2 598.7V607.7M366.8 597.3V604.3M368.0 560.1V598.1M369.2 559.0V561.0M370.5 558.0V560.0M373.0 552.1V569.6M376.8 573.4V584.9M380.5 593.9V604.7M386.8 578.7V627.0M389.2 571.7V590.4M390.5 570.7V572.7M394.2 594.0V596.0M395.5 588.4V594.8M396.8 587.6V589.6M398.0 575.1V588.4M400.5 561.3V577.4M405.5 600.4V606.1M409.2 617.5V619.5M410.5 611.1V618.3M413.0 610.7V619.1M415.5 613.6V616.0M416.8 612.7V614.7M418.0 609.4V613.5M421.8 616.2V629.0M425.5 626.9V638.1M428.0 642.8V650.2M431.8 676.6V684.3M435.5 670.1V707.2M438.0 669.3V680.7M439.2 639.3V670.1M444.2 645.5V653.0M446.8 648.2V656.5M448.0 647.8V649.8M450.5 650.2V656.6M451.8 643.8V651.0M454.2 635.6V645.5M460.5 666.0V677.5M463.0 684.9V687.3M464.2 672.1V685.7M468.0 678.5V684.6M469.2 664.4V679.3M471.8 669.2V674.4M473.0 653.8V670.0M474.2 653.2V655.2M476.8 648.9V660.7M479.2 643.9V664.0M481.8 646.5V653.9M483.0 621.4V647.3M486.8 633.8V644.8M489.2 633.2V641.5M491.8 636.7V638.7M493.0 627.5V637.5M494.2 625.8V628.3M496.8 623.5V631.0M499.2 617.7V626.5M500.5 617.5V619.5M501.8 606.1V618.3M503.0 602.3V606.9M504.2 598.0V603.1M506.8 609.3V611.3M508.0 597.5V610.1M511.8 617.6V620.2M513.0 607.6V618.4M515.5 604.4V617.2M518.0 603.6V611.4M519.2 602.5V604.5M521.8 605.7V611.8M523.0 599.5V606.5M524.2 583.3V600.3M529.2 584.3V602.7M531.8 583.9V588.8M533.0 554.2V584.7M539.2 590.5V599.5M540.5 590.4V592.4M543.0 590.3V596.3M544.2 577.8V591.1M545.5 576.2V578.6M546.8 564.4V577.0M548.0 564.0V566.0M549.2 563.8V565.8M551.8 574.3V576.3M554.2 573.9V575.9M555.5 571.4V574.7M556.8 564.8V572.2M558.0 561.7V565.6M559.2 561.1V563.1M560.5 553.2V561.9M561.8 539.6V554.0M564.2 549.5V552.5M565.5 540.4V550.3M568.0 522.4V547.2M569.2 503.3V523.2M571.8 511.9V516.2M574.2 513.8V515.8M575.5 500.9V514.6M578.0 488.5V505.2M580.5 488.6V493.5M581.8 460.5V489.4M583.0 448.7V461.3M584.2 422.0V449.5M585.5 420.8V422.8M586.8 407.8V421.6M588.0 404.3V408.6M589.2 382.3V405.1M591.8 376.2V397.7M594.2 376.2V387.2M595.5 358.1V377.0M599.2 364.1V379.7M605.5 370.6V413.3M608.0 361.1V386.0M609.2 358.4V361.9M613.0 406.7V446.3M616.8 448.7V450.7M621.8 453.3V472.7M624.2 445.0V464.3M628.0 463.0V466.2M629.2 457.1V463.8M630.5 440.1V457.9M633.0 428.2V446.6M634.2 422.1V429.0M636.8 412.2V438.6M639.2 414.5V438.2M641.8 413.9V436.4M644.2 407.1V422.7M646.8 398.1V413.9M650.5 421.8V425.7M654.2 425.2V429.3M656.8 414.5V429.1M659.2 402.7V418.5M661.8 390.7V406.3M664.2 386.5V392.7M665.5 370.3V387.3M666.8 369.0V371.1M669.2 362.1V376.0M670.5 360.0V362.9M673.0 364.0V366.8M674.2 353.6V364.8M675.5 351.2V354.4M678.0 357.3V365.4M683.0 369.5V379.4M685.5 379.9V383.5M686.8 366.7V380.7M688.0 360.7V367.5M689.2 359.7V361.7M693.0 424.7V426.7M694.2 404.8V425.5M696.8 431.1V436.9M699.2 430.1V443.3M701.8 440.7V442.7M703.0 434.7V441.5M705.5 442.1V447.1M708.0 441.4V463.5M710.5 437.9V447.8M711.8 437.8V439.8M713.0 427.0V438.6M718.0 422.7V447.9M719.2 407.9V423.5M720.5 390.2V408.7M723.0 387.6V391.8M725.5 392.5V399.2M728.0 397.3V399.5M729.2 393.1V398.1M730.5 382.2V393.9M734.2 388.9V397.4M738.0 393.9V405.0M740.5 393.4V416.7M743.0 400.4V412.5M748.0 408.0V413.2M750.5 409.3V419.3M751.8 406.4V410.1M754.2 400.5V408.8M755.5 389.2V401.3M758.0 386.3V393.6M759.2 363.4V387.1M760.5 355.8V364.2M761.8 350.9V356.6M763.0 327.5V351.7M765.5 323.0V339.7M768.0 323.3V337.1M770.5 315.3V333.5M771.8 310.0V316.1M776.8 317.7V327.5M779.2 321.9V328.1M781.8 326.4V332.2M784.2 331.7V334.2M785.5 324.4V332.5M788.0 323.0V327.1M791.8 331.3V333.3M793.0 329.4V332.1M794.2 328.5V330.5M795.5 320.9V329.3M798.0 319.8V327.2M799.2 316.4V320.6M801.8 306.9V319.4M809.2 344.0V352.5M814.2 352.4V363.0M816.8 359.1V361.1M818.0 352.0V359.9M821.8 357.2V362.5M823.0 357.0V359.0M826.8 366.6V371.0M828.0 365.8V367.8M830.5 359.9V373.9M831.8 354.8V360.7M833.0 351.1V355.6M834.2 344.0V351.9M835.5 340.5V344.8M838.0 331.7V349.5M840.5 337.6V342.8M841.8 327.9V338.4M843.0 302.1V328.7M845.5 292.9V305.2M850.5 319.4V322.0M851.8 317.3V320.2M854.2 309.2V318.6M856.8 316.5V329.3M860.5 326.5V330.4M863.0 328.9V340.0M868.0 331.2V349.4M869.2 322.3V332.0M871.8 315.4V328.7M876.8 346.5V353.0M880.5 362.4V374.3M883.0 365.2V375.4M885.5 358.5V371.1M886.8 357.3V359.3M889.2 315.8V363.7M891.8 272.0V318.4M893.0 266.2V272.8M894.2 248.2V267.0M896.8 250.2V255.8M898.0 234.9V251.0M899.2 233.5V235.7M901.8 199.4V212.2M904.2 209.3V211.4M905.5 208.5V210.5M908.0 201.8V210.4M911.8 192.4V207.1M914.2 187.9V204.2M919.2 202.9V211.9M921.8 208.6V217.4M924.2 212.7V215.3M925.5 209.5V213.5M926.8 197.9V210.3M929.2 184.4V202.1M930.5 179.3V185.2M931.8 162.4V180.1M934.2 142.4V166.1M936.8 126.9V143.7M939.2 119.6V144.0M940.5 111.4V120.4M943.0 119.1V124.8M944.2 93.1V119.9M948.0 98.0V116.6M950.5 99.4V118.3M954.2 103.7V120.4M958.0 111.1V121.0M960.5 110.5V120.4M963.0 109.0V120.1M964.2 108.1V110.1M966.8 115.2V117.2M970.5 118.4V143.6M975.5 174.2V176.7M976.8 169.5V175.0M978.0 156.1V170.3M981.8 160.8V162.8M984.2 157.2V173.2M986.8 147.7V165.8M989.2 162.0V167.9M994.2 192.2V197.1M996.8 244.6V250.0M998.0 236.0V245.4M999.2 231.3V236.8M1000.5 216.3V232.1M1003.0 216.7V222.3M1008.0 226.0V234.7M1010.5 241.4V248.3M1015.5 245.7V253.0M1018.0 250.9V262.4M1021.8 298.2V300.3M1023.0 294.7V299.0M1025.5 283.8V302.4M1026.8 280.4V284.6M1029.2 294.9V302.1M1031.8 307.0V309.8M1033.0 305.3V307.8M1034.2 291.3V306.1M1036.8 302.4V308.9M1039.2 297.9V312.0M1041.8 286.0V300.8M1046.8 303.0V317.4M1051.8 310.6V316.5M1054.2 319.5V321.5M1055.5 316.7V320.3M1056.8 316.4V318.4M1059.2 318.4V321.1M1060.5 316.2V319.2M1061.8 311.1V317.0M1066.8 327.1V338.2M1069.2 329.6V343.2M1071.8 329.0V344.6M1074.2 323.3V339.4M1076.8 312.8V330.2M1079.2 313.5V316.0M1080.5 300.2V314.3M1083.0 298.1V310.3M1085.5 288.5V302.7M1086.8 287.1V289.3M1091.8 295.2V300.9M1096.8 262.9V314.0M1099.2 230.7V280.2M1106.8 301.2V364.1M1109.2 331.2V359.8M1110.5 324.3V332.0M1115.5 333.8V345.5M1119.2 349.2V361.3M1123.0 387.7V400.7M1126.8 399.7V414.1M1129.2 400.6V409.9M1131.8 407.3V409.3M1133.0 396.5V408.1M1135.5 402.4V407.4M1139.2 407.7V416.8M1141.8 399.7V410.9M1144.2 395.0V404.8M1146.8 387.5V399.7M1150.5 394.5V397.6M1155.5 398.8V404.3M1158.0 400.3V406.7M1161.8 407.8V411.8M1165.5 420.6V424.5M1169.2 428.2V432.9M1173.0 435.9V437.9M1174.2 435.5V437.5M1176.8 448.0V450.3M1179.2 460.6V462.6M1184.2 478.6V482.6M1186.8 478.7V490.5M1188.0 472.0V479.5M1190.5 467.5V475.8M1193.0 463.7V473.0M1194.2 462.3V464.5M1196.8 458.4V465.7M1200.5 471.8V475.6M1203.0 482.9V496.5M1206.8 485.2V493.0M1209.2 488.3V493.8M1210.5 479.5V489.1M1213.0 473.6V482.8M1215.5 473.9V477.8M1216.8 466.7V474.7M1220.5 466.5V471.8M1223.0 462.8V467.7M1225.5 464.0V473.5M1229.2 483.8V487.5M1230.5 473.1V484.6M1233.0 475.0V480.2M1234.2 461.7V475.8M1235.5 456.6V462.5M1238.0 456.9V464.0M1239.2 431.9V457.7M1240.5 421.8V432.7M1243.0 411.3V426.2M1245.5 410.7V421.9M1248.0 419.9V425.5M1250.5 427.7V431.2M1251.8 422.9V428.5M1254.2 421.7V434.3M1258.0 439.4V443.8M1260.5 434.0V453.7M1263.0 424.1V436.2M1266.8 427.4V432.2M1269.2 426.2V430.8M1270.5 416.9V427.0M1273.0 413.7V419.0M1274.2 406.3V414.5M1275.5 399.6V407.1M1276.8 393.7V400.4M1278.0 381.3V394.5M1281.8 392.1V398.6M1285.5 399.7V401.7M1286.8 390.4V400.5M1289.2 387.5V397.6M1295.5 406.8V413.5M1299.2 416.9V464.9M1303.0 497.2V510.1M1305.5 491.3V505.4M1308.0 482.9V498.2M1310.5 485.8V493.9M1313.0 485.4V496.2M1315.5 490.7V499.8M1318.0 488.8V491.5M1320.5 475.8V493.0M1321.8 462.9V476.6M1324.2 463.8V470.6M1325.5 435.4V464.6M1328.0 433.5V441.4M1333.0 451.4V455.4M1336.8 456.7V469.8M1338.0 450.3V457.5M1341.8 448.6V457.4M1343.0 448.6V450.6M1345.5 429.6V452.5M1346.8 427.0V430.4M1348.0 426.1V428.1M1349.2 424.0V426.9M1351.8 418.9V429.9M1361.8 446.3V450.7M1364.2 444.7V449.9M1365.5 442.8V445.5M1368.0 446.3V448.3M1369.2 443.7V447.1M1370.5 430.4V444.5M1373.0 425.1V434.9M1376.8 432.4V441.3M1381.8 471.1V476.6M1384.2 478.6V492.4M1385.5 477.6V479.6M1388.0 473.1V484.9M1390.5 471.0V482.4M1393.0 469.7V480.0M1398.0 475.2V482.4M1401.8 481.2V490.8M1404.2 485.6V495.4M1408.0 493.1V501.1M1410.5 495.2V506.1M1411.8 493.5V496.0M1415.5 500.4V507.0M1418.0 504.1V509.6M1420.5 511.2V513.2M1425.5 534.9V538.1M1428.0 541.8V547.0M1430.5 551.0V555.3M1434.2 572.2V574.2M1440.5 652.7V662.1M1443.0 654.5V668.6M1445.5 659.7V661.7M1446.8 637.2V660.5M1449.2 637.9V651.8M1450.5 635.6V638.7M1451.8 635.0V637.0M1454.2 626.1V641.9M1456.8 637.5V639.5M1458.0 629.1V638.3M1461.8 633.3V642.5M1464.2 637.3V644.6M1465.5 633.3V638.1M1466.8 626.1V634.1M1468.0 615.2V626.9M1470.5 613.4V618.9M1471.8 611.4V614.2M1474.2 621.7V625.6M1478.0 646.7V651.4M1480.5 671.3V673.3M1481.8 664.3V672.1M1483.0 663.2V665.2M1485.5 656.1V671.5M1488.0 647.3V661.8M1489.2 639.5V648.1M1491.8 641.4V646.6M1493.0 622.4V642.2M1495.5 621.6V623.6M1499.2 631.9V641.1M1503.0 638.2V646.1M1506.8 642.0V649.6M1508.0 639.0V642.8M1511.8 640.4V651.7M1514.2 649.9V651.9M1515.5 641.8V650.7M1518.0 639.8V648.4M1520.5 649.7V654.2M1525.5 674.7V677.8M1526.8 662.9V675.5M1529.2 665.4V672.6M1530.5 664.8V666.8M1533.0 661.3V669.3M1535.5 685.8V695.0M1538.0 735.2V744.9M1540.5 734.1V754.0M1543.0 733.8V746.3M1545.5 740.4V749.8M1548.0 751.2V756.8M1551.8 763.8V776.9M1553.0 760.0V764.6M1555.5 758.1V778.2M1558.0 738.6V766.8M1559.2 733.6V739.4M1561.8 746.4V749.1M1563.0 725.5V747.2M1564.2 722.1V726.3M1568.0 725.5V736.7M1570.5 719.3V732.5M1574.2 727.4V730.4M1579.2 739.1V747.8M1581.8 750.6V752.6M1583.0 739.0V751.4M1585.5 738.4V750.7M1588.0 734.8V755.5M1590.5 724.8V739.1M1591.8 704.1V725.6M1594.2 698.9V710.4M1595.5 695.1V699.7M1598.0 685.1V697.3M1599.2 681.8V685.9M1601.8 677.4V687.1M1604.2 679.1V686.8M1608.0 688.1V694.6M1610.5 661.6V700.4M9.2 144.1V148.1M13.0 136.6V159.8M15.5 154.1V163.6M19.2 129.3V147.7M21.8 145.7V155.7M23.0 154.9V175.4M24.2 174.6V199.7M29.2 175.7V194.2M31.8 186.6V202.3M34.2 186.4V191.2M36.8 171.9V174.9M39.2 170.2V188.2M41.8 168.2V204.2M45.5 131.4V133.7M46.8 132.9V139.2M49.2 127.1V135.4M50.5 134.6V147.6M53.0 145.6V163.8M54.2 163.0V165.7M56.8 159.1V171.0M58.0 170.2V172.2M59.2 170.6V176.9M60.5 176.1V189.8M63.0 187.9V194.2M64.2 193.4V203.2M66.8 177.3V180.9M68.0 180.1V184.8M69.2 184.0V229.0M74.2 202.7V225.2M76.8 213.9V226.7M78.0 225.9V230.3M80.5 226.6V230.5M84.2 218.0V227.0M86.8 214.9V230.0M89.2 211.6V220.1M90.5 219.3V229.7M93.0 214.7V230.2M94.2 229.4V238.5M96.8 206.1V225.4M100.5 203.4V216.7M104.2 201.1V206.1M105.5 205.3V208.1M106.8 207.3V219.8M109.2 212.4V224.2M110.5 223.4V225.4M113.0 209.6V222.4M116.8 189.8V197.2M119.2 172.7V179.3M120.5 178.5V204.0M123.0 179.7V185.1M125.5 172.5V179.7M126.8 178.9V186.1M128.0 297.0V330.9M133.0 241.9V257.2M135.5 249.3V272.0M138.0 265.2V272.6M139.2 271.8V286.6M143.0 285.4V290.6M145.5 280.2V291.8M148.0 260.2V266.5M150.5 249.2V257.1M153.0 243.0V249.3M156.8 242.6V244.6M158.0 242.6V259.4M160.5 258.6V264.2M161.8 263.4V267.7M163.0 266.9V281.9M165.5 273.9V294.0M168.0 286.2V296.0M169.2 295.2V301.4M170.5 300.6V323.3M173.0 311.6V328.9M174.2 328.1V333.4M175.5 332.6V338.3M178.0 330.2V347.2M180.5 334.1V337.1M183.0 336.0V344.0M189.2 328.7V339.8M193.0 325.4V342.7M195.5 322.2V343.8M199.2 320.3V353.2M208.0 301.8V306.5M209.2 305.7V317.7M211.8 310.3V313.3M213.0 312.5V329.6M215.5 320.9V339.4M216.8 338.6V340.6M219.2 333.6V335.6M221.8 318.2V345.0M224.2 319.9V323.6M225.5 322.8V338.2M228.0 323.8V327.3M229.2 326.5V335.3M231.8 327.4V339.9M234.2 330.1V336.6M236.8 327.2V334.0M239.2 323.8V331.8M241.8 320.4V329.4M246.8 310.3V327.9M251.8 308.2V321.3M254.2 305.5V312.7M259.2 289.2V323.9M260.5 323.1V339.8M263.0 320.3V338.4M264.2 337.6V347.6M265.5 346.8V348.8M268.0 343.3V351.9M275.5 314.1V356.3M276.8 355.5V384.8M279.2 379.1V400.2M285.5 386.5V395.7M288.0 387.2V389.2M289.2 387.5V398.4M291.8 391.9V402.9M294.2 394.9V406.0M295.5 405.2V407.5M298.0 396.9V414.5M300.5 404.5V420.6M304.2 398.5V403.8M306.8 395.1V398.5M309.2 395.4V397.4M311.8 389.2V398.3M314.2 391.4V394.3M315.5 393.5V407.6M318.0 400.1V414.9M319.2 414.1V416.5M321.8 403.4V420.5M323.0 419.7V421.8M325.5 405.1V409.0M326.8 408.2V454.2M331.8 425.7V471.0M333.0 470.2V522.1M334.2 521.3V533.0M336.8 525.4V528.9M340.5 507.8V530.1M343.0 512.8V524.0M344.2 523.2V532.2M345.5 531.4V566.0M348.0 549.2V572.3M350.5 555.5V587.8M353.0 582.2V613.9M355.5 576.8V582.9M356.8 582.1V584.6M358.0 583.8V607.6M361.8 598.7V609.9M365.5 598.7V604.3M371.8 558.0V569.6M374.2 552.1V574.5M375.5 573.7V584.9M378.0 573.4V582.2M379.2 581.4V604.7M381.8 593.9V610.8M383.0 610.0V612.0M384.2 610.9V616.5M385.5 615.7V627.0M388.0 578.7V590.4M391.8 570.7V588.2M393.0 587.4V596.0M399.2 575.1V577.4M401.8 561.3V574.0M403.0 573.2V587.0M404.2 586.2V606.1M406.8 600.4V617.3M408.0 616.5V619.0M411.8 611.1V619.1M414.2 610.7V616.0M419.2 609.4V611.4M420.5 610.0V629.0M423.0 616.2V619.3M424.2 618.5V638.1M426.8 626.9V650.2M429.2 642.8V672.8M430.5 672.0V684.3M433.0 676.6V701.6M434.2 700.8V707.2M436.8 670.1V680.7M440.5 639.3V641.9M441.8 641.1V644.8M443.0 644.0V653.0M445.5 645.5V656.5M449.2 647.8V656.6M453.0 643.8V645.8M455.5 635.6V646.2M456.8 645.4V653.9M458.0 653.1V658.5M459.2 657.7V677.5M461.8 666.0V687.3M465.5 672.1V676.2M466.8 675.4V684.6M470.5 664.4V674.4M475.5 653.2V660.7M478.0 648.9V664.0M480.5 643.9V653.9M484.2 621.4V631.7M485.5 630.9V644.8M488.0 633.8V641.5M490.5 633.2V638.7M495.5 625.8V631.0M498.0 623.5V626.5M505.5 598.0V611.2M509.2 597.5V617.3M510.5 616.5V620.2M514.2 607.6V617.2M516.8 604.4V611.4M520.5 602.5V611.8M525.5 583.3V586.7M526.8 585.9V602.7M528.0 601.9V603.9M530.5 584.3V588.8M534.2 554.2V561.1M535.5 560.3V575.5M536.8 574.7V588.5M538.0 587.7V599.5M541.8 590.4V596.3M550.5 563.8V575.6M553.0 574.3V576.3M563.0 539.6V552.5M566.8 540.4V547.2M570.5 503.3V516.2M573.0 511.9V514.8M576.8 500.9V505.2M579.2 488.5V493.5M590.5 382.3V397.7M593.0 376.2V387.2M596.8 358.1V360.1M598.0 359.3V379.7M600.5 364.1V369.4M601.8 368.6V391.7M603.0 390.9V411.2M604.2 410.4V413.3M606.8 370.6V386.0M610.5 358.4V410.2M611.8 409.4V446.3M614.2 406.7V430.4M615.5 429.6V449.9M618.0 448.7V463.4M619.2 462.6V467.4M620.5 466.6V472.7M623.0 453.3V464.3M625.5 445.0V449.0M626.8 448.2V466.2M631.8 440.1V446.6M635.5 422.1V438.6M638.0 412.2V438.2M640.5 414.5V436.4M643.0 413.9V422.7M645.5 407.1V413.9M648.0 398.1V409.5M649.2 408.7V425.7M651.8 421.8V428.1M653.0 427.3V429.3M655.5 425.2V429.1M658.0 414.5V418.5M660.5 402.7V406.3M663.0 390.7V392.7M668.0 369.0V376.0M671.8 360.0V366.8M676.8 351.2V365.4M679.2 357.3V359.3M680.5 358.1V364.2M681.8 363.4V379.4M684.2 369.5V383.5M690.5 359.7V381.9M691.8 381.1V425.9M695.5 404.8V436.9M698.0 431.1V443.3M700.5 430.1V441.6M704.2 434.7V447.1M706.8 442.1V463.5M709.2 441.4V447.8M714.2 427.0V434.4M715.5 433.6V442.7M716.8 441.9V447.9M721.8 390.2V392.2M724.2 387.6V399.2M726.8 392.5V399.5M731.8 382.2V385.9M733.0 385.1V397.4M735.5 388.9V394.1M736.8 393.3V405.0M739.2 393.9V416.7M741.8 393.4V412.5M744.2 400.4V404.6M745.5 403.8V406.3M746.8 405.5V413.2M749.2 408.0V419.3M753.0 406.4V408.8M756.8 389.2V393.6M764.2 327.5V339.7M766.8 323.0V337.1M769.2 323.3V333.5M773.0 310.0V314.0M774.2 313.2V326.2M775.5 325.4V327.5M778.0 317.7V328.1M780.5 321.9V332.2M783.0 326.4V334.2M786.8 324.4V327.1M789.2 323.0V331.4M790.5 330.6V333.3M796.8 320.9V327.2M800.5 316.4V319.4M803.0 306.9V320.0M804.2 319.2V321.2M805.5 319.7V321.7M806.8 320.8V332.3M808.0 331.5V352.5M810.5 344.0V346.9M811.8 346.1V348.5M813.0 347.7V363.0M815.5 352.4V360.7M819.2 352.0V360.3M820.5 359.5V362.5M824.2 357.0V361.9M825.5 361.1V371.0M829.2 365.8V373.9M836.8 340.5V349.5M839.2 331.7V342.8M844.2 302.1V305.2M846.8 292.9V316.3M848.0 315.5V319.0M849.2 318.2V322.0M853.0 317.3V319.3M855.5 309.2V329.3M858.0 316.5V329.3M859.2 328.5V330.5M861.8 326.5V340.0M864.2 328.9V331.2M865.5 330.4V332.8M866.8 332.0V349.4M870.5 322.3V328.7M873.0 315.4V329.3M874.2 328.5V339.2M875.5 338.4V353.0M878.0 346.5V369.5M879.2 368.7V374.3M881.8 362.4V375.4M884.2 365.2V371.1M888.0 357.3V363.7M890.5 315.8V318.4M895.5 248.2V255.8M900.5 205.3V212.2M903.0 199.4V211.4M906.8 208.5V210.5M909.2 201.8V206.6M910.5 205.8V207.8M913.0 192.4V204.2M915.5 187.9V205.1M916.8 204.3V206.7M918.0 205.9V211.9M920.5 202.9V217.4M923.0 208.6V215.3M928.0 197.9V202.1M933.0 162.4V166.1M935.5 142.4V144.4M938.0 126.9V144.0M941.8 111.4V124.8M945.5 93.1V99.9M946.8 99.1V116.6M949.2 98.0V118.3M951.8 99.4V101.8M953.0 101.0V120.4M955.5 103.7V106.9M956.8 106.1V121.0M959.2 111.1V120.4M961.8 110.5V120.1M965.5 108.1V116.1M968.0 115.2V140.2M969.2 139.4V143.6M971.8 118.4V124.6M973.0 123.8V167.7M974.2 166.9V176.7M979.2 156.1V159.7M980.5 158.9V161.6M983.0 160.8V173.2M985.5 157.2V165.8M988.0 147.7V167.9M990.5 162.0V169.0M991.8 168.2V184.8M993.0 184.0V197.1M995.5 192.2V250.0M1001.8 216.3V222.3M1004.2 216.7V218.7M1005.5 217.2V225.1M1006.8 224.3V234.7M1009.2 226.0V248.3M1011.8 241.4V247.1M1013.0 246.3V251.6M1014.2 250.8V253.0M1016.8 245.7V262.4M1019.2 250.9V287.3M1020.5 286.5V300.3M1024.2 294.7V302.4M1028.0 280.4V302.1M1030.5 294.9V309.8M1035.5 291.3V308.9M1038.0 302.4V312.0M1040.5 297.9V300.8M1043.0 286.0V305.7M1044.2 304.9V314.4M1045.5 313.6V317.4M1048.0 303.0V305.2M1049.2 304.4V308.7M1050.5 307.9V316.5M1053.0 310.6V320.4M1058.0 316.4V321.1M1063.0 311.1V317.6M1064.2 316.8V318.8M1065.5 317.5V338.2M1068.0 327.1V343.2M1070.5 329.6V344.6M1073.0 329.0V339.4M1075.5 323.3V330.2M1078.0 312.8V316.0M1081.8 300.2V310.3M1084.2 298.1V302.7M1088.0 287.1V289.1M1089.2 288.3V298.9M1090.5 298.1V300.9M1093.0 295.2V297.2M1094.2 295.7V310.5M1095.5 309.7V314.0M1098.0 262.9V280.2M1100.5 230.7V232.9M1101.8 232.1V248.5M1103.0 247.7V249.7M1104.2 248.9V262.5M1105.5 261.7V364.1M1108.0 301.2V359.8M1111.8 324.3V334.9M1113.0 334.1V340.5M1114.2 339.7V345.5M1116.8 333.8V336.8M1118.0 336.0V361.3M1120.5 349.2V378.8M1121.8 378.0V400.7M1124.2 387.7V393.1M1125.5 392.3V414.1M1128.0 399.7V409.9M1130.5 400.6V409.3M1134.2 396.5V407.4M1136.8 402.4V413.9M1138.0 413.1V416.8M1140.5 407.7V410.9M1143.0 399.7V404.8M1145.5 395.0V399.7M1148.0 387.5V394.5M1149.2 393.7V397.6M1151.8 394.5V401.4M1153.0 400.6V403.8M1154.2 403.0V405.0M1156.8 398.8V406.7M1159.2 400.3V410.3M1160.5 409.5V411.8M1163.0 407.8V415.1M1164.2 414.3V424.5M1166.8 420.6V429.5M1168.0 428.7V432.9M1170.5 428.2V430.2M1171.8 429.0V437.3M1175.5 435.5V450.3M1178.0 448.0V462.2M1180.5 460.6V473.0M1181.8 472.2V480.0M1183.0 479.2V482.6M1185.5 478.6V490.5M1189.2 472.0V475.8M1191.8 467.5V473.0M1195.5 462.3V465.7M1198.0 458.4V460.6M1199.2 459.8V475.6M1201.8 471.8V496.5M1204.2 482.9V485.8M1205.5 485.0V493.0M1208.0 485.2V493.8M1211.8 479.5V482.8M1214.2 473.6V477.8M1218.0 466.7V471.7M1219.2 470.9V472.9M1221.8 466.5V468.5M1224.2 462.8V473.5M1226.8 464.0V470.4M1228.0 469.6V487.5M1231.8 473.1V480.2M1236.8 456.6V464.0M1241.8 421.8V426.2M1244.2 411.3V421.9M1246.8 410.7V425.5M1249.2 419.9V431.2M1253.0 422.9V434.3M1255.5 421.7V440.5M1256.8 439.7V443.8M1259.2 439.4V453.7M1261.8 434.0V436.2M1264.2 424.1V426.1M1265.5 425.3V432.2M1268.0 427.4V430.8M1271.8 416.9V419.0M1279.2 381.3V386.0M1280.5 385.2V398.6M1283.0 392.1V396.1M1284.2 395.3V400.8M1288.0 390.4V397.6M1290.5 387.5V395.3M1291.8 394.5V398.1M1293.0 397.3V402.0M1294.2 401.2V413.5M1296.8 406.8V435.4M1298.0 434.6V464.9M1300.5 416.9V467.9M1301.8 467.1V510.1M1304.2 497.2V505.4M1306.8 491.3V498.2M1309.2 482.9V493.9M1311.8 485.8V496.2M1314.2 485.4V499.8M1316.8 490.7V492.7M1319.2 488.8V493.0M1323.0 462.9V470.6M1326.8 435.4V441.4M1329.2 433.5V447.3M1330.5 446.5V449.2M1331.8 448.4V455.4M1334.2 451.4V467.4M1335.5 466.6V469.8M1339.2 450.3V453.6M1340.5 452.8V457.4M1344.2 448.6V452.5M1350.5 424.0V429.9M1353.0 418.9V421.1M1354.2 420.3V422.8M1355.5 422.0V435.0M1356.8 434.2V441.4M1358.0 440.6V443.1M1359.2 442.3V445.6M1360.5 444.8V450.7M1363.0 446.3V449.9M1366.8 442.8V447.2M1371.8 430.4V434.9M1374.2 425.1V427.1M1375.5 425.8V441.3M1378.0 432.4V446.6M1379.2 445.8V459.9M1380.5 459.1V476.6M1383.0 471.1V492.4M1386.8 477.6V484.9M1389.2 473.1V482.4M1391.8 471.0V480.0M1394.2 469.7V471.7M1395.5 470.7V472.7M1396.8 471.5V482.4M1399.2 475.2V486.7M1400.5 485.9V490.8M1403.0 481.2V495.4M1405.5 485.6V497.5M1406.8 496.7V501.1M1409.2 493.1V506.1M1413.0 493.5V503.8M1414.2 503.0V507.0M1416.8 500.4V509.6M1419.2 504.1V512.1M1421.8 511.2V531.6M1423.0 530.8V534.6M1424.2 533.8V538.1M1426.8 534.9V547.0M1429.2 541.8V555.3M1431.8 551.0V564.2M1433.0 563.4V573.5M1435.5 572.2V587.6M1436.8 586.8V643.4M1438.0 642.6V653.3M1439.2 652.5V662.1M1441.8 652.7V668.6M1444.2 654.5V661.4M1448.0 637.2V651.8M1453.0 635.0V641.9M1455.5 626.1V638.8M1459.2 629.1V632.6M1460.5 631.8V642.5M1463.0 633.3V644.6M1469.2 615.2V618.9M1473.0 611.4V625.6M1475.5 621.7V642.8M1476.8 642.0V651.4M1479.2 646.7V672.1M1484.2 663.2V671.5M1486.8 656.1V661.8M1490.5 639.5V646.6M1494.2 622.4V624.4M1496.8 621.6V625.7M1498.0 624.9V641.1M1500.5 631.9V634.3M1501.8 633.5V646.1M1504.2 638.2V649.4M1505.5 648.6V650.6M1509.2 639.0V650.3M1510.5 649.5V651.7M1513.0 640.4V651.9M1516.8 641.8V648.4M1519.2 639.8V654.2M1521.8 649.7V658.3M1523.0 657.5V666.7M1524.2 665.9V677.8M1528.0 662.9V672.6M1531.8 664.8V669.3M1534.2 661.3V695.0M1536.8 685.8V744.9M1539.2 735.2V754.0M1541.8 734.1V746.3M1544.2 733.8V749.8M1546.8 740.4V756.8M1549.2 751.2V756.8M1550.5 756.0V776.9M1554.2 760.0V778.2M1556.8 758.1V766.8M1560.5 733.6V749.1M1565.5 722.1V726.3M1566.8 725.5V736.7M1569.2 725.5V732.5M1571.8 719.3V725.5M1573.0 724.7V730.4M1575.5 727.4V733.6M1576.8 732.8V736.7M1578.0 735.9V747.8M1580.5 739.1V751.5M1584.2 739.0V750.7M1586.8 738.4V755.5M1589.2 734.8V739.1M1593.0 704.1V710.4M1596.8 695.1V697.3M1600.5 681.8V687.1M1603.0 677.4V686.8M1605.5 679.1V683.1M1606.8 682.3V694.6M1609.2 688.1V699.1M1612.5 643.3V663.0" stroke="#747474" stroke-width="1.7"/>
<path d="M8.0 144.5V149.1M10.5 142.8V147.7M11.8 137.0V142.8M14.2 154.5V159.4M16.8 145.8V163.2M18.0 129.7V145.8M20.5 146.1V147.3M25.5 189.2V199.3M26.8 185.6V189.2M28.0 176.1V185.6M30.5 187.0V193.8M33.0 186.8V201.9M35.5 172.3V190.8M38.0 170.6V174.5M40.5 168.6V187.8M43.0 140.6V203.8M44.2 131.8V140.6M48.0 127.5V138.8M51.8 146.0V147.2M55.5 159.5V165.3M61.8 188.3V189.5M65.5 177.7V202.8M70.5 228.4V229.6M71.8 224.1V228.4M73.0 203.1V224.1M75.5 214.3V224.8M79.2 227.0V229.9M81.8 228.4V230.1M83.0 218.4V228.4M85.5 215.3V226.6M88.0 212.0V229.6M91.8 215.1V229.3M95.5 206.5V238.1M98.0 205.1V225.0M99.2 203.8V205.1M101.8 202.3V216.3M103.0 201.5V202.7M108.0 212.8V219.4M111.8 210.0V224.7M114.2 197.2V222.0M115.5 190.2V197.2M118.0 173.1V196.8M121.8 180.1V203.6M124.2 172.9V184.7M129.2 308.8V330.5M130.5 249.9V308.8M131.8 242.3V249.9M134.2 249.7V256.8M136.8 265.6V271.6M140.5 285.9V287.1M141.8 285.8V287.0M144.2 280.6V290.2M146.8 260.6V291.4M149.2 249.6V266.1M151.8 243.4V256.7M154.2 248.0V249.2M155.5 243.0V248.0M159.2 259.0V260.2M164.2 274.3V281.5M166.8 286.6V293.6M171.8 312.0V322.9M176.8 330.6V337.9M179.2 334.5V346.8M181.8 336.4V337.6M184.2 343.4V344.6M185.5 342.8V344.0M186.8 340.8V342.8M188.0 329.1V340.8M190.5 338.4V339.6M191.8 325.8V338.4M194.2 322.6V342.3M196.8 342.5V343.7M198.0 320.7V342.5M200.5 340.0V352.8M201.8 326.9V340.0M203.0 326.7V327.9M204.2 316.0V326.7M205.5 315.7V316.9M206.8 302.2V315.7M210.5 310.7V317.3M214.2 321.3V329.2M218.0 334.0V339.7M220.5 318.6V335.1M223.0 320.3V344.6M226.8 324.2V337.8M230.5 327.8V334.9M233.0 330.5V339.5M235.5 327.6V336.2M238.0 324.2V333.6M240.5 320.8V331.4M243.0 325.6V329.0M244.2 314.1V325.6M245.5 310.7V314.1M248.0 314.7V327.5M249.2 312.8V314.7M250.5 308.6V312.8M253.0 305.9V320.9M255.5 310.7V312.3M256.8 306.3V310.7M258.0 289.6V306.3M261.8 320.7V339.4M266.8 343.7V348.3M269.2 349.2V351.5M270.5 348.9V350.1M271.8 345.0V348.9M273.0 344.5V345.7M274.2 314.5V344.5M278.0 379.5V384.4M280.5 398.8V400.0M281.8 395.5V398.8M283.0 387.7V395.5M284.2 386.9V388.1M286.8 387.6V395.3M290.5 392.3V398.0M293.0 395.3V402.5M296.8 397.3V407.1M299.2 404.9V414.1M301.8 414.4V420.2M303.0 398.9V414.4M305.5 395.5V403.4M308.0 395.8V398.1M310.5 389.6V396.1M313.0 391.8V397.9M316.8 400.5V407.2M320.5 403.8V416.1M324.2 405.5V421.4M328.0 437.8V453.8M329.2 432.4V437.8M330.5 426.1V432.4M335.5 525.8V532.6M338.0 523.7V528.5M339.2 508.2V523.7M341.8 513.2V529.7M346.8 549.6V565.6M349.2 555.9V571.9M351.8 582.6V587.4M354.2 577.2V613.5M359.2 599.3V607.2M360.5 599.1V600.3M363.0 607.3V609.5M364.2 599.1V607.3M366.8 597.7V603.9M368.0 560.5V597.7M369.2 559.4V560.6M370.5 558.4V559.6M373.0 552.5V569.2M376.8 573.8V584.5M380.5 594.3V604.3M386.8 579.1V626.6M389.2 572.1V590.0M390.5 571.1V572.3M394.2 594.4V595.6M395.5 588.8V594.4M396.8 588.0V589.2M398.0 575.5V588.0M400.5 561.7V577.0M405.5 600.8V605.7M409.2 617.9V619.1M410.5 611.5V617.9M413.0 611.1V618.7M415.5 614.0V615.6M416.8 613.1V614.3M418.0 609.8V613.1M421.8 616.6V628.6M425.5 627.3V637.7M428.0 643.2V649.8M431.8 677.0V683.9M435.5 670.5V706.8M438.0 669.7V680.3M439.2 639.7V669.7M444.2 645.9V652.6M446.8 648.6V656.1M448.0 648.2V649.4M450.5 650.6V656.2M451.8 644.2V650.6M454.2 636.0V645.1M460.5 666.4V677.1M463.0 685.3V686.9M464.2 672.5V685.3M468.0 678.9V684.2M469.2 664.8V678.9M471.8 669.6V674.0M473.0 654.2V669.6M474.2 653.6V654.8M476.8 649.3V660.3M479.2 644.3V663.6M481.8 646.9V653.5M483.0 621.8V646.9M486.8 634.2V644.4M489.2 633.6V641.1M491.8 637.1V638.3M493.0 627.9V637.1M494.2 626.2V627.9M496.8 623.9V630.6M499.2 618.1V626.1M500.5 617.9V619.1M501.8 606.5V617.9M503.0 602.7V606.5M504.2 598.4V602.7M506.8 609.7V610.9M508.0 597.9V609.7M511.8 618.0V619.8M513.0 608.0V618.0M515.5 604.8V616.8M518.0 604.0V611.0M519.2 602.9V604.1M521.8 606.1V611.4M523.0 599.9V606.1M524.2 583.7V599.9M529.2 584.7V602.3M531.8 584.3V588.4M533.0 554.6V584.3M539.2 590.9V599.1M540.5 590.8V592.0M543.0 590.7V595.9M544.2 578.2V590.7M545.5 576.6V578.2M546.8 564.8V576.6M548.0 564.4V565.6M549.2 564.2V565.4M551.8 574.7V575.9M554.2 574.3V575.5M555.5 571.8V574.3M556.8 565.2V571.8M558.0 562.1V565.2M559.2 561.5V562.7M560.5 553.6V561.5M561.8 540.0V553.6M564.2 549.9V552.1M565.5 540.8V549.9M568.0 522.8V546.8M569.2 503.7V522.8M571.8 512.3V515.8M574.2 514.2V515.4M575.5 501.3V514.2M578.0 488.9V504.8M580.5 489.0V493.1M581.8 460.9V489.0M583.0 449.1V460.9M584.2 422.4V449.1M585.5 421.2V422.4M586.8 408.2V421.2M588.0 404.7V408.2M589.2 382.7V404.7M591.8 376.6V397.3M594.2 376.6V386.8M595.5 358.5V376.6M599.2 364.5V379.3M605.5 371.0V412.9M608.0 361.5V385.6M609.2 358.8V361.5M613.0 407.1V445.9M616.8 449.1V450.3M621.8 453.7V472.3M624.2 445.4V463.9M628.0 463.4V465.8M629.2 457.5V463.4M630.5 440.5V457.5M633.0 428.6V446.2M634.2 422.5V428.6M636.8 412.6V438.2M639.2 414.9V437.8M641.8 414.3V436.0M644.2 407.5V422.3M646.8 398.5V413.5M650.5 422.2V425.3M654.2 425.6V428.9M656.8 414.9V428.7M659.2 403.1V418.1M661.8 391.1V405.9M664.2 386.9V392.3M665.5 370.7V386.9M666.8 369.4V370.7M669.2 362.5V375.6M670.5 360.4V362.5M673.0 364.4V366.4M674.2 354.0V364.4M675.5 351.6V354.0M678.0 357.7V365.0M683.0 369.9V379.0M685.5 380.3V383.1M686.8 367.1V380.3M688.0 361.1V367.1M689.2 360.1V361.3M693.0 425.1V426.3M694.2 405.2V425.1M696.8 431.5V436.5M699.2 430.5V442.9M701.8 441.1V442.3M703.0 435.1V441.1M705.5 442.5V446.7M708.0 441.8V463.1M710.5 438.3V447.4M711.8 438.2V439.4M713.0 427.4V438.2M718.0 423.1V447.5M719.2 408.3V423.1M720.5 390.6V408.3M723.0 388.0V391.4M725.5 392.9V398.8M728.0 397.7V399.1M729.2 393.5V397.7M730.5 382.6V393.5M734.2 389.3V397.0M738.0 394.3V404.6M740.5 393.8V416.3M743.0 400.8V412.1M748.0 408.4V412.8M750.5 409.7V418.9M751.8 406.8V409.7M754.2 400.9V408.4M755.5 389.6V400.9M758.0 386.7V393.2M759.2 363.8V386.7M760.5 356.2V363.8M761.8 351.3V356.2M763.0 327.9V351.3M765.5 323.4V339.3M768.0 323.7V336.7M770.5 315.7V333.1M771.8 310.4V315.7M776.8 318.1V327.1M779.2 322.3V327.7M781.8 326.8V331.8M784.2 332.1V333.8M785.5 324.8V332.1M788.0 323.4V326.7M791.8 331.7V332.9M793.0 329.8V331.7M794.2 328.9V330.1M795.5 321.3V328.9M798.0 320.2V326.8M799.2 316.8V320.2M801.8 307.3V319.0M809.2 344.4V352.1M814.2 352.8V362.6M816.8 359.5V360.7M818.0 352.4V359.5M821.8 357.6V362.1M823.0 357.4V358.6M826.8 367.0V370.6M828.0 366.2V367.4M830.5 360.3V373.5M831.8 355.2V360.3M833.0 351.5V355.2M834.2 344.4V351.5M835.5 340.9V344.4M838.0 332.1V349.1M840.5 338.0V342.4M841.8 328.3V338.0M843.0 302.5V328.3M845.5 293.3V304.8M850.5 319.8V321.6M851.8 317.7V319.8M854.2 309.6V318.2M856.8 316.9V328.9M860.5 326.9V330.0M863.0 329.3V339.6M868.0 331.6V349.0M869.2 322.7V331.6M871.8 315.8V328.3M876.8 346.9V352.6M880.5 362.8V373.9M883.0 365.6V375.0M885.5 358.9V370.7M886.8 357.7V358.9M889.2 316.2V363.3M891.8 272.4V318.0M893.0 266.6V272.4M894.2 248.6V266.6M896.8 250.6V255.4M898.0 235.3V250.6M899.2 233.9V235.3M901.8 199.8V211.8M904.2 209.7V211.0M905.5 208.9V210.1M908.0 202.2V210.0M911.8 192.8V206.7M914.2 188.3V203.8M919.2 203.3V211.5M921.8 209.0V217.0M924.2 213.1V214.9M925.5 209.9V213.1M926.8 198.3V209.9M929.2 184.8V201.7M930.5 179.7V184.8M931.8 162.8V179.7M934.2 142.8V165.7M936.8 127.3V143.3M939.2 120.0V143.6M940.5 111.8V120.0M943.0 119.5V124.4M944.2 93.5V119.5M948.0 98.4V116.2M950.5 99.8V117.9M954.2 104.1V120.0M958.0 111.5V120.6M960.5 110.9V120.0M963.0 109.4V119.7M964.2 108.5V109.7M966.8 115.6V116.8M970.5 118.8V143.2M975.5 174.6V176.3M976.8 169.9V174.6M978.0 156.5V169.9M981.8 161.2V162.4M984.2 157.6V172.8M986.8 148.1V165.4M989.2 162.4V167.5M994.2 192.6V196.7M996.8 245.0V249.6M998.0 236.4V245.0M999.2 231.7V236.4M1000.5 216.7V231.7M1003.0 217.1V221.9M1008.0 226.4V234.3M1010.5 241.8V247.9M1015.5 246.1V252.6M1018.0 251.3V262.0M1021.8 298.6V299.9M1023.0 295.1V298.6M1025.5 284.2V302.0M1026.8 280.8V284.2M1029.2 295.3V301.7M1031.8 307.4V309.4M1033.0 305.7V307.4M1034.2 291.7V305.7M1036.8 302.8V308.5M1039.2 298.3V311.6M1041.8 286.4V300.4M1046.8 303.4V317.0M1051.8 311.0V316.1M1054.2 319.9V321.1M1055.5 317.1V319.9M1056.8 316.8V318.0M1059.2 318.8V320.7M1060.5 316.6V318.8M1061.8 311.5V316.6M1066.8 327.5V337.8M1069.2 330.0V342.8M1071.8 329.4V344.2M1074.2 323.7V339.0M1076.8 313.2V329.8M1079.2 313.9V315.6M1080.5 300.6V313.9M1083.0 298.5V309.9M1085.5 288.9V302.3M1086.8 287.5V288.9M1091.8 295.6V300.5M1096.8 263.3V313.6M1099.2 231.1V279.8M1106.8 301.6V363.7M1109.2 331.6V359.4M1110.5 324.7V331.6M1115.5 334.2V345.1M1119.2 349.6V360.9M1123.0 388.1V400.3M1126.8 400.1V413.7M1129.2 401.0V409.5M1131.8 407.7V408.9M1133.0 396.9V407.7M1135.5 402.8V407.0M1139.2 408.1V416.4M1141.8 400.1V410.5M1144.2 395.4V404.4M1146.8 387.9V399.3M1150.5 394.9V397.2M1155.5 399.2V403.9M1158.0 400.7V406.3M1161.8 408.2V411.4M1165.5 421.0V424.1M1169.2 428.6V432.5M1173.0 436.3V437.5M1174.2 435.9V437.1M1176.8 448.4V449.9M1179.2 461.0V462.2M1184.2 479.0V482.2M1186.8 479.1V490.1M1188.0 472.4V479.1M1190.5 467.9V475.4M1193.0 464.1V472.6M1194.2 462.7V464.1M1196.8 458.8V465.3M1200.5 472.2V475.2M1203.0 483.3V496.1M1206.8 485.6V492.6M1209.2 488.7V493.4M1210.5 479.9V488.7M1213.0 474.0V482.4M1215.5 474.3V477.4M1216.8 467.1V474.3M1220.5 466.9V471.4M1223.0 463.2V467.3M1225.5 464.4V473.1M1229.2 484.2V487.1M1230.5 473.5V484.2M1233.0 475.4V479.8M1234.2 462.1V475.4M1235.5 457.0V462.1M1238.0 457.3V463.6M1239.2 432.3V457.3M1240.5 422.2V432.3M1243.0 411.7V425.8M1245.5 411.1V421.5M1248.0 420.3V425.1M1250.5 428.1V430.8M1251.8 423.3V428.1M1254.2 422.1V433.9M1258.0 439.8V443.4M1260.5 434.4V453.3M1263.0 424.5V435.8M1266.8 427.8V431.8M1269.2 426.6V430.4M1270.5 417.3V426.6M1273.0 414.1V418.6M1274.2 406.7V414.1M1275.5 400.0V406.7M1276.8 394.1V400.0M1278.0 381.7V394.1M1281.8 392.5V398.2M1285.5 400.1V401.3M1286.8 390.8V400.1M1289.2 387.9V397.2M1295.5 407.2V413.1M1299.2 417.3V464.5M1303.0 497.6V509.7M1305.5 491.7V505.0M1308.0 483.3V497.8M1310.5 486.2V493.5M1313.0 485.8V495.8M1315.5 491.1V499.4M1318.0 489.2V491.1M1320.5 476.2V492.6M1321.8 463.3V476.2M1324.2 464.2V470.2M1325.5 435.8V464.2M1328.0 433.9V441.0M1333.0 451.8V455.0M1336.8 457.1V469.4M1338.0 450.7V457.1M1341.8 449.0V457.0M1343.0 449.0V450.2M1345.5 430.0V452.1M1346.8 427.4V430.0M1348.0 426.5V427.7M1349.2 424.4V426.5M1351.8 419.3V429.5M1361.8 446.7V450.3M1364.2 445.1V449.5M1365.5 443.2V445.1M1368.0 446.7V447.9M1369.2 444.1V446.7M1370.5 430.8V444.1M1373.0 425.5V434.5M1376.8 432.8V440.9M1381.8 471.5V476.2M1384.2 479.0V492.0M1385.5 478.0V479.2M1388.0 473.5V484.5M1390.5 471.4V482.0M1393.0 470.1V479.6M1398.0 475.6V482.0M1401.8 481.6V490.4M1404.2 486.0V495.0M1408.0 493.5V500.7M1410.5 495.6V505.7M1411.8 493.9V495.6M1415.5 500.8V506.6M1418.0 504.5V509.2M1420.5 511.6V512.8M1425.5 535.3V537.7M1428.0 542.2V546.6M1430.5 551.4V554.9M1434.2 572.6V573.8M1440.5 653.1V661.7M1443.0 654.9V668.2M1445.5 660.1V661.3M1446.8 637.6V660.1M1449.2 638.3V651.4M1450.5 636.0V638.3M1451.8 635.4V636.6M1454.2 626.5V641.5M1456.8 637.9V639.1M1458.0 629.5V637.9M1461.8 633.7V642.1M1464.2 637.7V644.2M1465.5 633.7V637.7M1466.8 626.5V633.7M1468.0 615.6V626.5M1470.5 613.8V618.5M1471.8 611.8V613.8M1474.2 622.1V625.2M1478.0 647.1V651.0M1480.5 671.7V672.9M1481.8 664.7V671.7M1483.0 663.6V664.8M1485.5 656.5V671.1M1488.0 647.7V661.4M1489.2 639.9V647.7M1491.8 641.8V646.2M1493.0 622.8V641.8M1495.5 622.0V623.2M1499.2 632.3V640.7M1503.0 638.6V645.7M1506.8 642.4V649.2M1508.0 639.4V642.4M1511.8 640.8V651.3M1514.2 650.3V651.5M1515.5 642.2V650.3M1518.0 640.2V648.0M1520.5 650.1V653.8M1525.5 675.1V677.4M1526.8 663.3V675.1M1529.2 665.8V672.2M1530.5 665.2V666.4M1533.0 661.7V668.9M1535.5 686.2V694.6M1538.0 735.6V744.5M1540.5 734.5V753.6M1543.0 734.2V745.9M1545.5 740.8V749.4M1548.0 751.6V756.4M1551.8 764.2V776.5M1553.0 760.4V764.2M1555.5 758.5V777.8M1558.0 739.0V766.4M1559.2 734.0V739.0M1561.8 746.8V748.7M1563.0 725.9V746.8M1564.2 722.5V725.9M1568.0 725.9V736.3M1570.5 719.7V732.1M1574.2 727.8V730.0M1579.2 739.5V747.4M1581.8 751.0V752.2M1583.0 739.4V751.0M1585.5 738.8V750.3M1588.0 735.2V755.1M1590.5 725.2V738.7M1591.8 704.5V725.2M1594.2 699.3V710.0M1595.5 695.5V699.3M1598.0 685.5V696.9M1599.2 682.2V685.5M1601.8 677.8V686.7M1604.2 679.5V686.4M1608.0 688.5V694.2M1610.5 662.0V700.0" stroke="#1ed21e" stroke-width="1.15"/>
<path d="M9.2 144.5V147.7M13.0 137.0V159.4M15.5 154.5V163.2M19.2 129.7V147.3M21.8 146.1V155.3M23.0 155.3V175.0M24.2 175.0V199.3M29.2 176.1V193.8M31.8 187.0V201.9M34.2 186.8V190.8M36.8 172.3V174.5M39.2 170.6V187.8M41.8 168.6V203.8M45.5 131.8V133.3M46.8 133.3V138.8M49.2 127.5V135.0M50.5 135.0V147.2M53.0 146.0V163.4M54.2 163.4V165.3M56.8 159.5V170.6M58.0 170.6V171.8M59.2 171.0V176.5M60.5 176.5V189.4M63.0 188.3V193.8M64.2 193.8V202.8M66.8 177.7V180.5M68.0 180.5V184.4M69.2 184.4V228.6M74.2 203.1V224.8M76.8 214.3V226.3M78.0 226.3V229.9M80.5 227.0V230.1M84.2 218.4V226.6M86.8 215.3V229.6M89.2 212.0V219.7M90.5 219.7V229.3M93.0 215.1V229.8M94.2 229.8V238.1M96.8 206.5V225.0M100.5 203.8V216.3M104.2 201.5V205.7M105.5 205.7V207.7M106.8 207.7V219.4M109.2 212.8V223.8M110.5 223.8V225.0M113.0 210.0V222.0M116.8 190.2V196.8M119.2 173.1V178.9M120.5 178.9V203.6M123.0 180.1V184.7M125.5 172.9V179.3M126.8 179.3V185.7M128.0 297.4V330.5M133.0 242.3V256.8M135.5 249.7V271.6M138.0 265.6V272.2M139.2 272.2V286.2M143.0 285.8V290.2M145.5 280.6V291.4M148.0 260.6V266.1M150.5 249.6V256.7M153.0 243.4V248.9M156.8 243.0V244.2M158.0 243.0V259.0M160.5 259.0V263.8M161.8 263.8V267.3M163.0 267.3V281.5M165.5 274.3V293.6M168.0 286.6V295.6M169.2 295.6V301.0M170.5 301.0V322.9M173.0 312.0V328.5M174.2 328.5V333.0M175.5 333.0V337.9M178.0 330.6V346.8M180.5 334.5V336.7M183.0 336.4V343.6M189.2 329.1V339.4M193.0 325.8V342.3M195.5 322.6V343.4M199.2 320.7V352.8M208.0 302.2V306.1M209.2 306.1V317.3M211.8 310.7V312.9M213.0 312.9V329.2M215.5 321.3V339.0M216.8 339.0V340.2M219.2 334.0V335.2M221.8 318.6V344.6M224.2 320.3V323.2M225.5 323.2V337.8M228.0 324.2V326.9M229.2 326.9V334.9M231.8 327.8V339.5M234.2 330.5V336.2M236.8 327.6V333.6M239.2 324.2V331.4M241.8 320.8V329.0M246.8 310.7V327.5M251.8 308.6V320.9M254.2 305.9V312.3M259.2 289.6V323.5M260.5 323.5V339.4M263.0 320.7V338.0M264.2 338.0V347.2M265.5 347.2V348.4M268.0 343.7V351.5M275.5 314.5V355.9M276.8 355.9V384.4M279.2 379.5V399.8M285.5 386.9V395.3M288.0 387.6V388.8M289.2 387.9V398.0M291.8 392.3V402.5M294.2 395.3V405.6M295.5 405.6V407.1M298.0 397.3V414.1M300.5 404.9V420.2M304.2 398.9V403.4M306.8 395.5V398.1M309.2 395.8V397.0M311.8 389.6V397.9M314.2 391.8V393.9M315.5 393.9V407.2M318.0 400.5V414.5M319.2 414.5V416.1M321.8 403.8V420.1M323.0 420.1V421.4M325.5 405.5V408.6M326.8 408.6V453.8M331.8 426.1V470.6M333.0 470.6V521.7M334.2 521.7V532.6M336.8 525.8V528.5M340.5 508.2V529.7M343.0 513.2V523.6M344.2 523.6V531.8M345.5 531.8V565.6M348.0 549.6V571.9M350.5 555.9V587.4M353.0 582.6V613.5M355.5 577.2V582.5M356.8 582.5V584.2M358.0 584.2V607.2M361.8 599.1V609.5M365.5 599.1V603.9M371.8 558.4V569.2M374.2 552.5V574.1M375.5 574.1V584.5M378.0 573.8V581.8M379.2 581.8V604.3M381.8 594.3V610.4M383.0 610.4V611.6M384.2 611.3V616.1M385.5 616.1V626.6M388.0 579.1V590.0M391.8 571.1V587.8M393.0 587.8V595.6M399.2 575.5V577.0M401.8 561.7V573.6M403.0 573.6V586.6M404.2 586.6V605.7M406.8 600.8V616.9M408.0 616.9V618.6M411.8 611.5V618.7M414.2 611.1V615.6M419.2 609.8V611.0M420.5 610.4V628.6M423.0 616.6V618.9M424.2 618.9V637.7M426.8 627.3V649.8M429.2 643.2V672.4M430.5 672.4V683.9M433.0 677.0V701.2M434.2 701.2V706.8M436.8 670.5V680.3M440.5 639.7V641.5M441.8 641.5V644.4M443.0 644.4V652.6M445.5 645.9V656.1M449.2 648.2V656.2M453.0 644.2V645.4M455.5 636.0V645.8M456.8 645.8V653.5M458.0 653.5V658.1M459.2 658.1V677.1M461.8 666.4V686.9M465.5 672.5V675.8M466.8 675.8V684.2M470.5 664.8V674.0M475.5 653.6V660.3M478.0 649.3V663.6M480.5 644.3V653.5M484.2 621.8V631.3M485.5 631.3V644.4M488.0 634.2V641.1M490.5 633.6V638.3M495.5 626.2V630.6M498.0 623.9V626.1M505.5 598.4V610.8M509.2 597.9V616.9M510.5 616.9V619.8M514.2 608.0V616.8M516.8 604.8V611.0M520.5 602.9V611.4M525.5 583.7V586.3M526.8 586.3V602.3M528.0 602.3V603.5M530.5 584.7V588.4M534.2 554.6V560.7M535.5 560.7V575.1M536.8 575.1V588.1M538.0 588.1V599.1M541.8 590.8V595.9M550.5 564.2V575.2M553.0 574.7V575.9M563.0 540.0V552.1M566.8 540.8V546.8M570.5 503.7V515.8M573.0 512.3V514.4M576.8 501.3V504.8M579.2 488.9V493.1M590.5 382.7V397.3M593.0 376.6V386.8M596.8 358.5V359.7M598.0 359.7V379.3M600.5 364.5V369.0M601.8 369.0V391.3M603.0 391.3V410.8M604.2 410.8V412.9M606.8 371.0V385.6M610.5 358.8V409.8M611.8 409.8V445.9M614.2 407.1V430.0M615.5 430.0V449.5M618.0 449.1V463.0M619.2 463.0V467.0M620.5 467.0V472.3M623.0 453.7V463.9M625.5 445.4V448.6M626.8 448.6V465.8M631.8 440.5V446.2M635.5 422.5V438.2M638.0 412.6V437.8M640.5 414.9V436.0M643.0 414.3V422.3M645.5 407.5V413.5M648.0 398.5V409.1M649.2 409.1V425.3M651.8 422.2V427.7M653.0 427.7V428.9M655.5 425.6V428.7M658.0 414.9V418.1M660.5 403.1V405.9M663.0 391.1V392.3M668.0 369.4V375.6M671.8 360.4V366.4M676.8 351.6V365.0M679.2 357.7V358.9M680.5 358.5V363.8M681.8 363.8V379.0M684.2 369.9V383.1M690.5 360.1V381.5M691.8 381.5V425.5M695.5 405.2V436.5M698.0 431.5V442.9M700.5 430.5V441.2M704.2 435.1V446.7M706.8 442.5V463.1M709.2 441.8V447.4M714.2 427.4V434.0M715.5 434.0V442.3M716.8 442.3V447.5M721.8 390.6V391.8M724.2 388.0V398.8M726.8 392.9V399.1M731.8 382.6V385.5M733.0 385.5V397.0M735.5 389.3V393.7M736.8 393.7V404.6M739.2 394.3V416.3M741.8 393.8V412.1M744.2 400.8V404.2M745.5 404.2V405.9M746.8 405.9V412.8M749.2 408.4V418.9M753.0 406.8V408.4M756.8 389.6V393.2M764.2 327.9V339.3M766.8 323.4V336.7M769.2 323.7V333.1M773.0 310.4V313.6M774.2 313.6V325.8M775.5 325.8V327.1M778.0 318.1V327.7M780.5 322.3V331.8M783.0 326.8V333.8M786.8 324.8V326.7M789.2 323.4V331.0M790.5 331.0V332.9M796.8 321.3V326.8M800.5 316.8V319.0M803.0 307.3V319.6M804.2 319.6V320.8M805.5 320.1V321.3M806.8 321.2V331.9M808.0 331.9V352.1M810.5 344.4V346.5M811.8 346.5V348.1M813.0 348.1V362.6M815.5 352.8V360.3M819.2 352.4V359.9M820.5 359.9V362.1M824.2 357.4V361.5M825.5 361.5V370.6M829.2 366.2V373.5M836.8 340.9V349.1M839.2 332.1V342.4M844.2 302.5V304.8M846.8 293.3V315.9M848.0 315.9V318.6M849.2 318.6V321.6M853.0 317.7V318.9M855.5 309.6V328.9M858.0 316.9V328.9M859.2 328.9V330.1M861.8 326.9V339.6M864.2 329.3V330.8M865.5 330.8V332.4M866.8 332.4V349.0M870.5 322.7V328.3M873.0 315.8V328.9M874.2 328.9V338.8M875.5 338.8V352.6M878.0 346.9V369.1M879.2 369.1V373.9M881.8 362.8V375.0M884.2 365.6V370.7M888.0 357.7V363.3M890.5 316.2V318.0M895.5 248.6V255.4M900.5 205.7V211.8M903.0 199.8V211.0M906.8 208.9V210.1M909.2 202.2V206.2M910.5 206.2V207.4M913.0 192.8V203.8M915.5 188.3V204.7M916.8 204.7V206.3M918.0 206.3V211.5M920.5 203.3V217.0M923.0 209.0V214.9M928.0 198.3V201.7M933.0 162.8V165.7M935.5 142.8V144.0M938.0 127.3V143.6M941.8 111.8V124.4M945.5 93.5V99.5M946.8 99.5V116.2M949.2 98.4V117.9M951.8 99.8V101.4M953.0 101.4V120.0M955.5 104.1V106.5M956.8 106.5V120.6M959.2 111.5V120.0M961.8 110.9V119.7M965.5 108.5V115.7M968.0 115.6V139.8M969.2 139.8V143.2M971.8 118.8V124.2M973.0 124.2V167.3M974.2 167.3V176.3M979.2 156.5V159.3M980.5 159.3V161.2M983.0 161.2V172.8M985.5 157.6V165.4M988.0 148.1V167.5M990.5 162.4V168.6M991.8 168.6V184.4M993.0 184.4V196.7M995.5 192.6V249.6M1001.8 216.7V221.9M1004.2 217.1V218.3M1005.5 217.6V224.7M1006.8 224.7V234.3M1009.2 226.4V247.9M1011.8 241.8V246.7M1013.0 246.7V251.2M1014.2 251.2V252.6M1016.8 246.1V262.0M1019.2 251.3V286.9M1020.5 286.9V299.9M1024.2 295.1V302.0M1028.0 280.8V301.7M1030.5 295.3V309.4M1035.5 291.7V308.5M1038.0 302.8V311.6M1040.5 298.3V300.4M1043.0 286.4V305.3M1044.2 305.3V314.0M1045.5 314.0V317.0M1048.0 303.4V304.8M1049.2 304.8V308.3M1050.5 308.3V316.1M1053.0 311.0V320.0M1058.0 316.8V320.7M1063.0 311.5V317.2M1064.2 317.2V318.4M1065.5 317.9V337.8M1068.0 327.5V342.8M1070.5 330.0V344.2M1073.0 329.4V339.0M1075.5 323.7V329.8M1078.0 313.2V315.6M1081.8 300.6V309.9M1084.2 298.5V302.3M1088.0 287.5V288.7M1089.2 288.7V298.5M1090.5 298.5V300.5M1093.0 295.6V296.8M1094.2 296.1V310.1M1095.5 310.1V313.6M1098.0 263.3V279.8M1100.5 231.1V232.5M1101.8 232.5V248.1M1103.0 248.1V249.3M1104.2 249.3V262.1M1105.5 262.1V363.7M1108.0 301.6V359.4M1111.8 324.7V334.5M1113.0 334.5V340.1M1114.2 340.1V345.1M1116.8 334.2V336.4M1118.0 336.4V360.9M1120.5 349.6V378.4M1121.8 378.4V400.3M1124.2 388.1V392.7M1125.5 392.7V413.7M1128.0 400.1V409.5M1130.5 401.0V408.9M1134.2 396.9V407.0M1136.8 402.8V413.5M1138.0 413.5V416.4M1140.5 408.1V410.5M1143.0 400.1V404.4M1145.5 395.4V399.3M1148.0 387.9V394.1M1149.2 394.1V397.2M1151.8 394.9V401.0M1153.0 401.0V403.4M1154.2 403.4V404.6M1156.8 399.2V406.3M1159.2 400.7V409.9M1160.5 409.9V411.4M1163.0 408.2V414.7M1164.2 414.7V424.1M1166.8 421.0V429.1M1168.0 429.1V432.5M1170.5 428.6V429.8M1171.8 429.4V436.9M1175.5 435.9V449.9M1178.0 448.4V461.8M1180.5 461.0V472.6M1181.8 472.6V479.6M1183.0 479.6V482.2M1185.5 479.0V490.1M1189.2 472.4V475.4M1191.8 467.9V472.6M1195.5 462.7V465.3M1198.0 458.8V460.2M1199.2 460.2V475.2M1201.8 472.2V496.1M1204.2 483.3V485.4M1205.5 485.4V492.6M1208.0 485.6V493.4M1211.8 479.9V482.4M1214.2 474.0V477.4M1218.0 467.1V471.3M1219.2 471.3V472.5M1221.8 466.9V468.1M1224.2 463.2V473.1M1226.8 464.4V470.0M1228.0 470.0V487.1M1231.8 473.5V479.8M1236.8 457.0V463.6M1241.8 422.2V425.8M1244.2 411.7V421.5M1246.8 411.1V425.1M1249.2 420.3V430.8M1253.0 423.3V433.9M1255.5 422.1V440.1M1256.8 440.1V443.4M1259.2 439.8V453.3M1261.8 434.4V435.8M1264.2 424.5V425.7M1265.5 425.7V431.8M1268.0 427.8V430.4M1271.8 417.3V418.6M1279.2 381.7V385.6M1280.5 385.6V398.2M1283.0 392.5V395.7M1284.2 395.7V400.4M1288.0 390.8V397.2M1290.5 387.9V394.9M1291.8 394.9V397.7M1293.0 397.7V401.6M1294.2 401.6V413.1M1296.8 407.2V435.0M1298.0 435.0V464.5M1300.5 417.3V467.5M1301.8 467.5V509.7M1304.2 497.6V505.0M1306.8 491.7V497.8M1309.2 483.3V493.5M1311.8 486.2V495.8M1314.2 485.8V499.4M1316.8 491.1V492.3M1319.2 489.2V492.6M1323.0 463.3V470.2M1326.8 435.8V441.0M1329.2 433.9V446.9M1330.5 446.9V448.8M1331.8 448.8V455.0M1334.2 451.8V467.0M1335.5 467.0V469.4M1339.2 450.7V453.2M1340.5 453.2V457.0M1344.2 449.0V452.1M1350.5 424.4V429.5M1353.0 419.3V420.7M1354.2 420.7V422.4M1355.5 422.4V434.6M1356.8 434.6V441.0M1358.0 441.0V442.7M1359.2 442.7V445.2M1360.5 445.2V450.3M1363.0 446.7V449.5M1366.8 443.2V446.8M1371.8 430.8V434.5M1374.2 425.5V426.7M1375.5 426.2V440.9M1378.0 432.8V446.2M1379.2 446.2V459.5M1380.5 459.5V476.2M1383.0 471.5V492.0M1386.8 478.0V484.5M1389.2 473.5V482.0M1391.8 471.4V479.6M1394.2 470.1V471.3M1395.5 471.1V472.3M1396.8 471.9V482.0M1399.2 475.6V486.3M1400.5 486.3V490.4M1403.0 481.6V495.0M1405.5 486.0V497.1M1406.8 497.1V500.7M1409.2 493.5V505.7M1413.0 493.9V503.4M1414.2 503.4V506.6M1416.8 500.8V509.2M1419.2 504.5V511.7M1421.8 511.6V531.2M1423.0 531.2V534.2M1424.2 534.2V537.7M1426.8 535.3V546.6M1429.2 542.2V554.9M1431.8 551.4V563.8M1433.0 563.8V573.1M1435.5 572.6V587.2M1436.8 587.2V643.0M1438.0 643.0V652.9M1439.2 652.9V661.7M1441.8 653.1V668.2M1444.2 654.9V661.0M1448.0 637.6V651.4M1453.0 635.4V641.5M1455.5 626.5V638.4M1459.2 629.5V632.2M1460.5 632.2V642.1M1463.0 633.7V644.2M1469.2 615.6V618.5M1473.0 611.8V625.2M1475.5 622.1V642.4M1476.8 642.4V651.0M1479.2 647.1V671.7M1484.2 663.6V671.1M1486.8 656.5V661.4M1490.5 639.9V646.2M1494.2 622.8V624.0M1496.8 622.0V625.3M1498.0 625.3V640.7M1500.5 632.3V633.9M1501.8 633.9V645.7M1504.2 638.6V649.0M1505.5 649.0V650.2M1509.2 639.4V649.9M1510.5 649.9V651.3M1513.0 640.8V651.5M1516.8 642.2V648.0M1519.2 640.2V653.8M1521.8 650.1V657.9M1523.0 657.9V666.3M1524.2 666.3V677.4M1528.0 663.3V672.2M1531.8 665.2V668.9M1534.2 661.7V694.6M1536.8 686.2V744.5M1539.2 735.6V753.6M1541.8 734.5V745.9M1544.2 734.2V749.4M1546.8 740.8V756.4M1549.2 751.6V756.4M1550.5 756.4V776.5M1554.2 760.4V777.8M1556.8 758.5V766.4M1560.5 734.0V748.7M1565.5 722.5V725.9M1566.8 725.9V736.3M1569.2 725.9V732.1M1571.8 719.7V725.1M1573.0 725.1V730.0M1575.5 727.8V733.2M1576.8 733.2V736.3M1578.0 736.3V747.4M1580.5 739.5V751.1M1584.2 739.4V750.3M1586.8 738.8V755.1M1589.2 735.2V738.7M1593.0 704.5V710.0M1596.8 695.5V696.9M1600.5 682.2V686.7M1603.0 677.8V686.4M1605.5 679.5V682.7M1606.8 682.7V694.2M1609.2 688.5V698.7M1612.5 643.7V662.6" stroke="#ec1a1a" stroke-width="1.15"/>
<line x1="940" y1="79" x2="1694.3" y2="689.4" stroke="rgba(255,0,0,0.5)" stroke-width="10"/>
<g fill="rgba(0,0,0,0.5)">
<ellipse cx="1278.5" cy="380.4" rx="499.5" ry="3.3"/>
<ellipse cx="1481" cy="510.3" rx="290.5" ry="5"/>
<ellipse cx="1620" cy="608.4" rx="159.5" ry="6.2"/>
<rect x="408.4" y="702.6" width="1370" height="9"/>
<circle cx="952.1" cy="85" r="31.3"/>
<ellipse cx="1102.1" cy="212.8" rx="14.2" ry="18.2"/>
<circle cx="1366.8" cy="420.8" r="19.3"/>
<ellipse cx="1560.4" cy="797.5" rx="27" ry="24.5"/>
</g>
<polygon points="941.0,73.5 944.1,341.4 934.1,341.5 954.5,375.3 974.1,341.1 964.1,341.2 961.0,73.3" fill="rgba(0,0,255,0.5)"/>
<polygon points="1117.0,379.7 1120.0,633.3 1110.0,633.4 1130.4,667.2 1150.0,633.0 1140.0,633.1 1137.0,379.5" fill="rgba(0,0,255,0.5)"/>
<ellipse cx="1560.7" cy="745.3" rx="58.7" ry="56" fill="rgba(0,255,255,0.5)"/>
<polygon points="982.3,295.4 1515.3,757.3 1508.7,764.8 1547.5,772.0 1534.9,734.6 1528.4,742.2 995.3,280.2" fill="rgba(255,0,255,0.5)"/>
<line x1="1529.5" y1="704.5" x2="1533.5" y2="745" stroke="rgba(0,128,255,0.5)" stroke-width="11.5"/>
<line x1="1535.5" y1="744" x2="1546.7" y2="720.5" stroke="rgba(0,128,255,0.5)" stroke-width="11.5"/>
<line x1="1546.5" y1="720" x2="1553.5" y2="784" stroke="rgba(0,128,255,0.5)" stroke-width="11.5"/>
<line x1="1553.5" y1="783" x2="1569.4" y2="716" stroke="rgba(0,128,255,0.5)" stroke-width="11.5"/>
<line x1="1569.4" y1="716" x2="1580.6" y2="758" stroke="rgba(0,128,255,0.5)" stroke-width="11.5"/>
<line x1="1581.7" y1="758" x2="1593" y2="714" stroke="rgba(0,128,255,0.5)" stroke-width="11.5"/>
</g>
<rect x="1778" y="654" width="57" height="17.6" fill="#ff0000"/><text x="1787" y="667.3" font-size="12.6" fill="#fff">1221.55</text>
</svg></body></html>
